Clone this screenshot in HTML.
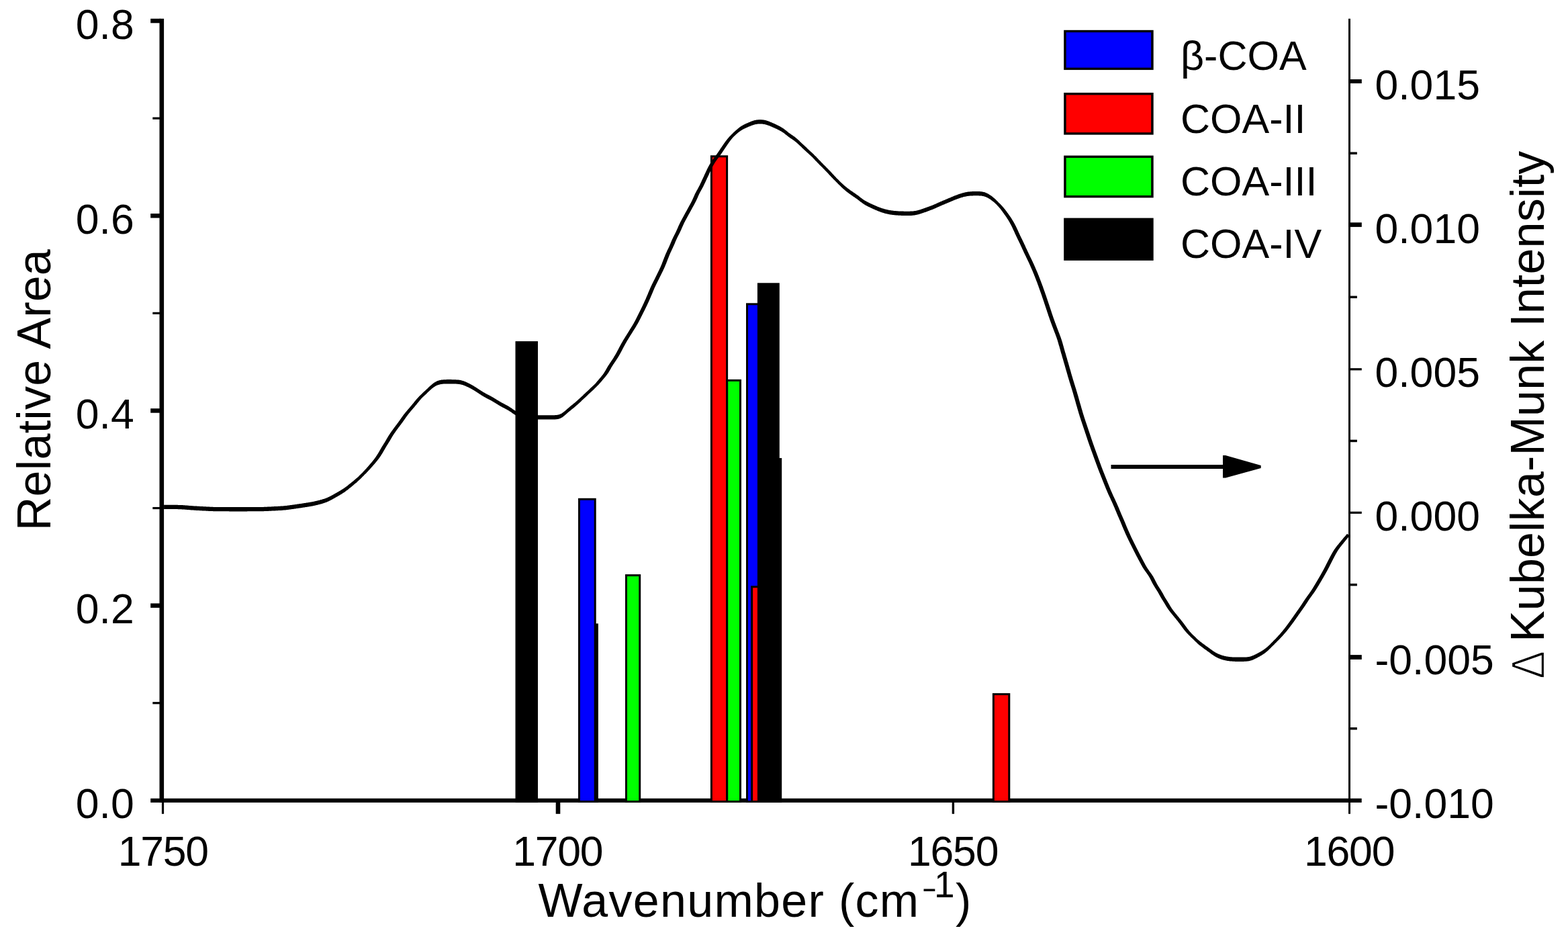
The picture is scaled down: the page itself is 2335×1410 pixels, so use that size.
<!DOCTYPE html>
<html><head><meta charset="utf-8"><title>Relative Area vs Wavenumber</title>
<style>
html,body{margin:0;padding:0;background:#fff;width:2335px;height:1410px;overflow:hidden}
svg{display:block}
</style></head>
<body>
<svg width="2335" height="1410" viewBox="0 0 2335 1410">
<rect width="2335" height="1410" fill="#fff"/>
<rect x="237.5" y="27.8" width="6.6" height="1167.1" fill="#000"/>
<rect x="224.2" y="1188.8" width="1803.5" height="6.1" fill="#000"/>
<rect x="2008" y="27.8" width="3" height="1167.1" fill="#000"/>
<rect x="224.2" y="27.80" width="15" height="6.5" fill="#000"/>
<rect x="224.2" y="318.00" width="15" height="6.5" fill="#000"/>
<rect x="224.2" y="608.20" width="15" height="6.5" fill="#000"/>
<rect x="224.2" y="898.40" width="15" height="6.5" fill="#000"/>
<rect x="227.3" y="174.55" width="11" height="3.2" fill="#000"/>
<rect x="227.3" y="464.75" width="11" height="3.2" fill="#000"/>
<rect x="227.3" y="754.95" width="11" height="3.2" fill="#000"/>
<rect x="227.3" y="1045.15" width="11" height="3.2" fill="#000"/>
<rect x="2010" y="118.10" width="17.8" height="6.0" fill="#000"/>
<rect x="2010" y="331.30" width="17.8" height="6.6" fill="#000"/>
<rect x="2010" y="548.20" width="17.8" height="3.2" fill="#000"/>
<rect x="2010" y="761.70" width="17.8" height="3.2" fill="#000"/>
<rect x="2010" y="975.10" width="17.8" height="6.8" fill="#000"/>
<rect x="2010" y="226.42" width="10.9" height="3.5" fill="#000"/>
<rect x="2010" y="440.58" width="10.9" height="3.5" fill="#000"/>
<rect x="2010" y="654.72" width="10.9" height="3.5" fill="#000"/>
<rect x="2010" y="868.88" width="10.9" height="3.5" fill="#000"/>
<rect x="2010" y="1083.03" width="10.9" height="3.5" fill="#000"/>
<rect x="240.9" y="1194" width="3.2" height="17.8" fill="#000"/>
<rect x="827.7" y="1194" width="6.6" height="17.8" fill="#000"/>
<rect x="1417.7" y="1194" width="3.4" height="17.8" fill="#000"/>
<rect x="2008" y="1194" width="3" height="17.8" fill="#000"/>
<rect x="767.5" y="508.1" width="33.5" height="686.9" fill="#000"/>
<rect x="864.0" y="928.4" width="26.9" height="266.6" fill="#000"/>
<rect x="861.0" y="741.8" width="26.7" height="453.2" fill="#000"/><rect x="864.0" y="744.8" width="20.7" height="447.2" fill="#0000ff"/>
<rect x="931.0" y="855.1" width="23.2" height="339.9" fill="#000"/><rect x="934.0" y="858.1" width="17.2" height="333.9" fill="#00ff00"/>
<rect x="1057.9" y="231.3" width="26.2" height="963.7" fill="#000"/><rect x="1060.9" y="234.3" width="20.2" height="957.7" fill="#ff0000"/>
<rect x="1081.2" y="564.9" width="22.8" height="630.1" fill="#000"/><rect x="1084.2" y="567.9" width="16.8" height="624.1" fill="#00ff00"/>
<rect x="1131.0" y="682.0" width="33.2" height="513.0" fill="#000"/>
<rect x="1111.0" y="451.3" width="26.7" height="743.7" fill="#000"/><rect x="1114.0" y="454.3" width="20.7" height="737.7" fill="#0000ff"/>
<rect x="1118.1" y="872.2" width="26.4" height="322.8" fill="#000"/><rect x="1121.1" y="875.2" width="20.4" height="316.8" fill="#ff0000"/>
<rect x="1127.9" y="421.3" width="32.9" height="773.7" fill="#000"/>
<rect x="1477.9" y="1032.1" width="26.4" height="162.9" fill="#000"/><rect x="1480.9" y="1035.1" width="20.4" height="156.9" fill="#ff0000"/>
<path d="M244.1,758.0 244.5,758.0 244.9,758.0 245.4,758.0 245.9,758.0 246.5,758.0 247.0,758.0 247.7,758.0 248.3,758.0 249.0,758.0 249.7,758.0 250.4,758.0 251.1,758.0 251.8,758.0 252.5,758.0 253.3,758.0 254.0,758.0 254.7,758.0 255.5,758.0 256.2,758.1 257.0,758.1 257.7,758.1 258.5,758.1 259.2,758.1 260.0,758.1 260.7,758.1 261.5,758.1 262.2,758.1 263.0,758.1 263.7,758.1 264.4,758.1 265.2,758.2 265.9,758.2 266.7,758.2 267.4,758.2 268.1,758.2 268.9,758.3 269.6,758.3 270.3,758.3 271.1,758.4 271.8,758.4 272.5,758.5 273.3,758.5 274.0,758.5 274.8,758.6 275.5,758.7 276.2,758.7 277.0,758.8 277.7,758.8 278.5,758.9 279.2,758.9 280.0,759.0 280.7,759.1 281.5,759.1 282.2,759.2 283.0,759.2 283.7,759.3 284.5,759.4 285.2,759.4 286.0,759.5 286.7,759.5 287.5,759.6 288.2,759.6 289.0,759.7 289.7,759.7 290.5,759.8 291.2,759.8 292.0,759.9 292.7,759.9 293.5,760.0 294.3,760.0 295.0,760.0 295.8,760.1 296.5,760.1 297.3,760.2 298.0,760.2 298.8,760.2 299.5,760.3 300.3,760.3 301.0,760.4 301.8,760.4 302.5,760.4 303.2,760.5 304.0,760.5 304.7,760.6 305.5,760.6 306.2,760.6 307.0,760.7 307.7,760.7 308.5,760.7 309.2,760.8 310.0,760.8 310.7,760.9 311.5,760.9 312.2,760.9 313.0,761.0 313.8,761.0 314.5,761.0 315.3,761.1 316.0,761.1 316.8,761.1 317.5,761.2 318.3,761.2 319.1,761.2 319.8,761.2 320.6,761.3 321.3,761.3 322.1,761.3 322.8,761.3 323.6,761.3 324.4,761.3 325.1,761.3 325.9,761.3 326.6,761.3 327.4,761.3 328.1,761.3 328.9,761.3 329.6,761.3 330.4,761.3 331.1,761.3 331.9,761.3 332.6,761.3 333.4,761.3 334.1,761.3 334.9,761.3 335.6,761.3 336.4,761.3 337.1,761.3 337.9,761.3 338.6,761.3 339.4,761.3 340.1,761.3 340.9,761.3 341.6,761.4 342.4,761.4 343.1,761.4 343.9,761.4 344.6,761.4 345.4,761.4 346.1,761.4 346.9,761.4 347.6,761.4 348.4,761.4 349.1,761.4 349.9,761.4 350.6,761.4 351.4,761.4 352.1,761.4 352.9,761.4 353.6,761.4 354.4,761.4 355.1,761.4 355.9,761.4 356.6,761.4 357.4,761.4 358.1,761.4 358.9,761.4 359.6,761.4 360.4,761.4 361.1,761.4 361.9,761.4 362.6,761.4 363.4,761.4 364.1,761.4 364.9,761.4 365.6,761.4 366.4,761.4 367.1,761.4 367.9,761.4 368.6,761.3 369.4,761.3 370.1,761.3 370.9,761.3 371.6,761.3 372.4,761.3 373.1,761.3 373.9,761.3 374.6,761.3 375.4,761.3 376.1,761.3 376.9,761.3 377.6,761.3 378.4,761.3 379.1,761.3 379.9,761.3 380.6,761.3 381.4,761.3 382.2,761.3 382.9,761.3 383.7,761.3 384.4,761.3 385.2,761.3 385.9,761.3 386.7,761.3 387.4,761.3 388.2,761.3 389.0,761.3 389.7,761.3 390.5,761.2 391.2,761.2 392.0,761.2 392.7,761.2 393.5,761.1 394.3,761.1 395.0,761.1 395.8,761.0 396.5,761.0 397.3,761.0 398.0,760.9 398.8,760.9 399.5,760.9 400.3,760.8 401.0,760.8 401.8,760.8 402.5,760.7 403.3,760.7 404.0,760.7 404.8,760.6 405.5,760.6 406.3,760.5 407.0,760.5 407.8,760.5 408.5,760.4 409.3,760.4 410.0,760.4 410.8,760.3 411.5,760.3 412.3,760.2 413.0,760.2 413.8,760.2 414.5,760.1 415.3,760.1 416.0,760.0 416.8,760.0 417.5,760.0 418.3,759.9 419.1,759.9 419.8,759.8 420.6,759.8 421.3,759.7 422.1,759.6 422.9,759.6 423.6,759.5 424.4,759.4 425.1,759.4 425.9,759.3 426.7,759.2 427.4,759.1 428.2,759.0 428.9,758.9 429.7,758.8 430.4,758.7 431.2,758.6 431.9,758.5 432.7,758.4 433.4,758.3 434.2,758.2 434.9,758.1 435.7,758.0 436.4,757.9 437.2,757.8 437.9,757.7 438.6,757.6 439.4,757.5 440.1,757.4 440.9,757.2 441.6,757.1 442.4,757.0 443.1,756.9 443.9,756.8 444.6,756.7 445.3,756.6 446.1,756.5 446.8,756.4 447.6,756.3 448.3,756.2 449.1,756.0 449.8,755.9 450.5,755.8 451.3,755.7 452.0,755.6 452.8,755.5 453.5,755.4 454.3,755.3 455.0,755.1 455.7,755.0 456.5,754.9 457.2,754.8 458.0,754.7 458.7,754.6 459.5,754.4 460.2,754.3 461.0,754.2 461.7,754.1 462.4,753.9 463.2,753.8 463.9,753.7 464.7,753.5 465.5,753.4 466.2,753.2 467.0,753.1 467.7,752.9 468.5,752.8 469.2,752.6 470.0,752.4 470.7,752.3 471.4,752.1 472.2,751.9 472.9,751.7 473.7,751.5 474.4,751.3 475.1,751.2 475.9,751.0 476.6,750.8 477.3,750.6 478.1,750.4 478.8,750.2 479.5,749.9 480.3,749.7 481.0,749.5 481.7,749.3 482.5,749.0 483.2,748.8 484.0,748.5 484.7,748.3 485.4,748.0 486.1,747.7 486.9,747.4 487.6,747.1 488.3,746.8 489.0,746.5 489.7,746.2 490.4,745.8 491.1,745.5 491.8,745.1 492.5,744.8 493.2,744.4 493.9,744.0 494.5,743.7 495.2,743.3 495.9,742.9 496.5,742.6 497.2,742.2 497.9,741.8 498.5,741.5 499.2,741.1 499.8,740.7 500.5,740.3 501.1,740.0 501.8,739.6 502.5,739.2 503.1,738.8 503.8,738.5 504.4,738.1 505.1,737.7 505.7,737.3 506.4,736.9 507.0,736.5 507.7,736.1 508.3,735.7 509.0,735.4 509.6,734.9 510.2,734.5 510.9,734.1 511.5,733.7 512.2,733.3 512.8,732.9 513.4,732.4 514.1,732.0 514.7,731.5 515.3,731.1 515.9,730.6 516.5,730.1 517.2,729.7 517.8,729.2 518.4,728.7 519.0,728.2 519.5,727.8 520.1,727.3 520.7,726.8 521.3,726.3 521.9,725.9 522.5,725.4 523.1,724.9 523.7,724.4 524.2,724.0 524.8,723.5 525.4,723.0 526.0,722.5 526.6,722.1 527.1,721.6 527.7,721.1 528.3,720.6 528.9,720.1 529.5,719.6 530.0,719.2 530.6,718.7 531.2,718.2 531.8,717.7 532.3,717.1 532.9,716.6 533.5,716.1 534.0,715.6 534.6,715.1 535.1,714.6 535.7,714.0 536.2,713.5 536.8,713.0 537.3,712.4 537.8,711.9 538.4,711.4 538.9,710.8 539.4,710.3 540.0,709.8 540.5,709.2 541.0,708.7 541.6,708.2 542.1,707.6 542.6,707.1 543.2,706.6 543.7,706.0 544.2,705.5 544.8,704.9 545.3,704.4 545.8,703.9 546.3,703.3 546.9,702.8 547.4,702.2 547.9,701.7 548.4,701.1 549.0,700.6 549.5,700.0 550.0,699.5 550.5,698.9 551.0,698.3 551.5,697.8 552.0,697.2 552.5,696.7 553.0,696.1 553.5,695.5 554.0,695.0 554.5,694.4 555.0,693.8 555.5,693.3 556.0,692.7 556.5,692.1 557.0,691.5 557.5,691.0 558.0,690.4 558.5,689.8 559.0,689.2 559.5,688.7 559.9,688.1 560.4,687.5 560.9,686.9 561.4,686.3 561.9,685.7 562.4,685.1 562.8,684.5 563.3,683.9 563.8,683.3 564.2,682.7 564.7,682.0 565.1,681.4 565.6,680.8 566.0,680.2 566.4,679.5 566.9,678.9 567.3,678.2 567.7,677.6 568.1,677.0 568.5,676.3 568.9,675.7 569.3,675.0 569.7,674.4 570.1,673.7 570.5,673.1 570.9,672.4 571.2,671.8 571.6,671.1 572.0,670.5 572.4,669.8 572.7,669.2 573.1,668.5 573.5,667.9 573.8,667.3 574.2,666.6 574.6,666.0 575.0,665.4 575.3,664.7 575.7,664.1 576.1,663.5 576.5,662.8 576.9,662.2 577.3,661.5 577.7,660.9 578.1,660.3 578.5,659.6 578.9,659.0 579.3,658.3 579.7,657.7 580.1,657.0 580.5,656.4 580.9,655.7 581.3,655.1 581.6,654.4 582.0,653.8 582.4,653.2 582.7,652.5 583.1,651.9 583.5,651.3 583.9,650.6 584.2,650.0 584.6,649.4 585.0,648.8 585.4,648.1 585.8,647.5 586.2,646.9 586.6,646.3 587.0,645.7 587.4,645.1 587.8,644.5 588.3,643.9 588.7,643.3 589.1,642.6 589.5,642.0 590.0,641.4 590.4,640.8 590.8,640.2 591.3,639.6 591.7,639.0 592.2,638.4 592.6,637.8 593.0,637.2 593.5,636.6 593.9,636.0 594.4,635.4 594.9,634.8 595.3,634.2 595.8,633.6 596.2,633.0 596.7,632.4 597.1,631.8 597.6,631.2 598.0,630.6 598.5,630.0 598.9,629.4 599.4,628.8 599.8,628.2 600.3,627.6 600.7,626.9 601.1,626.3 601.6,625.7 602.0,625.1 602.4,624.5 602.9,623.9 603.3,623.3 603.7,622.7 604.1,622.1 604.5,621.4 605.0,620.8 605.4,620.3 605.8,619.7 606.3,619.1 606.7,618.5 607.1,617.9 607.6,617.3 608.0,616.7 608.5,616.2 608.9,615.6 609.4,615.0 609.9,614.4 610.4,613.9 610.8,613.3 611.3,612.7 611.8,612.1 612.3,611.6 612.7,611.0 613.2,610.4 613.7,609.9 614.2,609.3 614.7,608.7 615.2,608.2 615.7,607.6 616.2,607.0 616.7,606.4 617.2,605.9 617.6,605.3 618.1,604.7 618.6,604.1 619.1,603.6 619.6,603.0 620.1,602.4 620.6,601.8 621.0,601.2 621.5,600.6 622.0,600.1 622.4,599.5 622.9,598.9 623.4,598.3 623.8,597.8 624.3,597.2 624.8,596.6 625.2,596.0 625.7,595.5 626.2,594.9 626.6,594.4 627.1,593.8 627.6,593.3 628.1,592.8 628.6,592.2 629.1,591.7 629.6,591.2 630.1,590.7 630.7,590.2 631.2,589.7 631.8,589.2 632.3,588.7 632.9,588.2 633.4,587.7 634.0,587.2 634.5,586.7 635.1,586.2 635.6,585.7 636.2,585.1 636.7,584.6 637.2,584.1 637.8,583.6 638.3,583.1 638.9,582.5 639.4,582.0 640.0,581.5 640.5,581.0 641.1,580.5 641.6,580.0 642.2,579.6 642.7,579.1 643.3,578.6 643.8,578.1 644.4,577.7 645.0,577.3 645.5,576.8 646.1,576.4 646.7,576.0 647.3,575.7 647.8,575.3 648.4,574.9 649.0,574.6 649.6,574.3 650.2,574.0 650.8,573.7 651.4,573.5 652.0,573.3 652.6,573.0 653.2,572.9 653.8,572.7 654.4,572.5 655.1,572.4 655.7,572.2 656.3,572.1 657.0,572.0 657.6,571.9 658.3,571.8 658.9,571.7 659.6,571.7 660.3,571.6 661.0,571.6 661.7,571.5 662.4,571.5 663.1,571.5 663.9,571.5 664.6,571.5 665.3,571.4 666.1,571.4 666.8,571.4 667.5,571.4 668.3,571.4 669.0,571.4 669.8,571.4 670.5,571.4 671.3,571.4 672.0,571.4 672.7,571.5 673.5,571.5 674.2,571.5 675.0,571.5 675.7,571.5 676.4,571.5 677.2,571.6 677.9,571.6 678.6,571.6 679.4,571.6 680.1,571.7 680.8,571.7 681.5,571.8 682.2,571.8 682.8,571.9 683.5,572.0 684.2,572.1 684.8,572.2 685.5,572.3 686.1,572.4 686.8,572.6 687.4,572.7 688.1,572.9 688.7,573.1 689.4,573.3 690.0,573.5 690.7,573.7 691.3,574.0 692.0,574.2 692.6,574.5 693.3,574.8 694.0,575.1 694.6,575.4 695.3,575.7 695.9,576.0 696.6,576.3 697.3,576.6 697.9,577.0 698.6,577.3 699.2,577.6 699.9,577.9 700.5,578.3 701.2,578.6 701.8,579.0 702.4,579.3 703.1,579.7 703.7,580.0 704.4,580.4 705.0,580.8 705.6,581.1 706.2,581.5 706.9,581.9 707.5,582.3 708.1,582.7 708.7,583.1 709.4,583.5 710.0,583.9 710.6,584.3 711.2,584.7 711.9,585.1 712.5,585.5 713.1,586.0 713.8,586.4 714.4,586.8 715.0,587.2 715.7,587.6 716.3,588.0 717.0,588.4 717.6,588.9 718.3,589.3 718.9,589.7 719.6,590.1 720.2,590.5 720.9,590.8 721.6,591.2 722.2,591.6 722.9,592.0 723.6,592.3 724.2,592.7 724.9,593.0 725.6,593.4 726.2,593.7 726.9,594.1 727.6,594.4 728.2,594.8 728.9,595.1 729.5,595.4 730.2,595.8 730.8,596.1 731.5,596.5 732.1,596.8 732.7,597.2 733.4,597.5 734.0,597.9 734.6,598.3 735.3,598.7 735.9,599.0 736.5,599.4 737.2,599.8 737.8,600.2 738.4,600.6 739.1,601.0 739.7,601.4 740.4,601.8 741.0,602.2 741.7,602.6 742.3,603.0 743.0,603.4 743.6,603.8 744.3,604.2 744.9,604.6 745.6,604.9 746.3,605.3 746.9,605.7 747.6,606.0 748.3,606.4 748.9,606.8 749.6,607.1 750.3,607.4 750.9,607.8 751.6,608.1 752.2,608.5 752.9,608.8 753.5,609.2 754.2,609.5 754.8,609.8 755.4,610.2 756.1,610.6 756.7,610.9 757.3,611.3 757.9,611.6 758.5,612.0 759.1,612.4 759.7,612.8 760.4,613.2 761.0,613.6 761.6,614.1 762.2,614.5 762.8,614.9 763.4,615.4 764.1,615.8 764.7,616.2 765.4,616.7 766.0,617.1 766.7,617.5 767.4,617.9 768.1,618.3 768.8,618.6 769.5,619.0 770.2,619.3 771.0,619.7 771.7,620.0 772.4,620.3 773.2,620.5 773.9,620.8 774.7,621.0 775.4,621.3 776.2,621.5 776.9,621.7 777.7,621.9 778.5,622.1 779.2,622.3 780.0,622.4 780.7,622.6 781.5,622.7 782.3,622.9 783.0,623.0 783.8,623.2 784.5,623.3 785.3,623.4 786.1,623.5 786.8,623.6 787.6,623.7 788.4,623.8 789.1,623.9 789.9,624.0 790.7,624.1 791.5,624.1 792.2,624.2 793.0,624.3 793.8,624.3 794.5,624.3 795.3,624.4 796.1,624.4 796.8,624.4 797.6,624.4 798.4,624.5 799.1,624.5 799.9,624.5 800.6,624.5 801.4,624.5 802.2,624.5 802.9,624.5 803.7,624.5 804.4,624.5 805.2,624.5 805.9,624.5 806.7,624.5 807.4,624.5 808.2,624.5 808.9,624.5 809.7,624.5 810.4,624.5 811.2,624.5 811.9,624.5 812.7,624.5 813.4,624.5 814.2,624.5 814.9,624.5 815.7,624.5 816.4,624.5 817.2,624.5 817.9,624.5 818.7,624.5 819.4,624.5 820.2,624.5 820.9,624.5 821.7,624.5 822.5,624.5 823.2,624.5 824.0,624.5 824.7,624.5 825.5,624.5 826.3,624.4 827.1,624.4 827.9,624.3 828.6,624.3 829.4,624.2 830.2,624.0 831.0,623.9 831.8,623.7 832.6,623.5 833.4,623.2 834.2,622.9 835.0,622.6 835.7,622.2 836.4,621.8 837.1,621.4 837.8,620.9 838.4,620.5 839.1,620.0 839.7,619.5 840.3,619.0 840.9,618.5 841.5,618.0 842.1,617.5 842.6,617.0 843.2,616.5 843.8,616.0 844.3,615.5 844.9,615.0 845.5,614.5 846.0,614.1 846.6,613.6 847.2,613.1 847.8,612.6 848.3,612.1 848.9,611.7 849.5,611.2 850.0,610.7 850.6,610.3 851.2,609.8 851.8,609.3 852.4,608.8 852.9,608.4 853.5,607.9 854.1,607.4 854.7,606.9 855.3,606.5 855.8,606.0 856.4,605.5 857.0,605.0 857.6,604.5 858.1,604.0 858.7,603.5 859.3,603.0 859.9,602.5 860.4,602.0 861.0,601.5 861.5,601.0 862.1,600.4 862.7,599.9 863.2,599.4 863.8,598.9 864.3,598.4 864.9,597.9 865.4,597.4 866.0,596.8 866.5,596.3 867.1,595.8 867.6,595.3 868.2,594.8 868.7,594.3 869.3,593.8 869.8,593.3 870.4,592.7 870.9,592.2 871.5,591.7 872.0,591.2 872.5,590.7 873.1,590.2 873.6,589.7 874.2,589.2 874.7,588.7 875.3,588.1 875.8,587.6 876.4,587.1 876.9,586.6 877.5,586.1 878.0,585.6 878.6,585.1 879.1,584.6 879.7,584.0 880.2,583.5 880.8,583.0 881.3,582.5 881.9,582.0 882.4,581.5 883.0,581.0 883.5,580.4 884.0,579.9 884.6,579.4 885.1,578.9 885.7,578.3 886.2,577.8 886.8,577.3 887.3,576.7 887.8,576.2 888.4,575.7 888.9,575.1 889.5,574.6 890.0,574.0 890.5,573.5 891.1,573.0 891.6,572.4 892.1,571.8 892.6,571.3 893.2,570.7 893.7,570.1 894.2,569.6 894.7,569.0 895.1,568.4 895.6,567.9 896.1,567.3 896.6,566.7 897.1,566.1 897.6,565.6 898.0,565.0 898.5,564.4 899.0,563.8 899.5,563.3 900.0,562.7 900.5,562.1 901.0,561.5 901.5,560.9 902.0,560.3 902.4,559.7 902.9,559.1 903.4,558.5 903.9,557.9 904.3,557.3 904.8,556.6 905.2,556.0 905.7,555.4 906.1,554.7 906.5,554.1 906.9,553.4 907.3,552.7 907.7,552.1 908.1,551.4 908.4,550.8 908.8,550.2 909.2,549.5 909.5,548.9 909.9,548.2 910.2,547.6 910.6,547.0 911.0,546.3 911.4,545.7 911.7,545.1 912.1,544.5 912.5,543.9 912.9,543.2 913.3,542.6 913.7,542.0 914.2,541.4 914.6,540.8 915.0,540.1 915.4,539.5 915.8,538.9 916.3,538.2 916.7,537.6 917.1,537.0 917.5,536.4 917.9,535.7 918.3,535.1 918.8,534.4 919.2,533.8 919.6,533.2 920.0,532.5 920.4,531.9 920.8,531.2 921.2,530.6 921.6,529.9 922.0,529.3 922.4,528.6 922.7,527.9 923.1,527.3 923.5,526.6 923.9,525.9 924.2,525.3 924.6,524.6 925.0,523.9 925.3,523.3 925.7,522.6 926.0,521.9 926.4,521.3 926.7,520.6 927.0,519.9 927.4,519.3 927.7,518.6 928.1,518.0 928.4,517.3 928.8,516.6 929.1,516.0 929.5,515.3 929.8,514.7 930.2,514.0 930.5,513.4 930.9,512.8 931.2,512.1 931.6,511.5 932.0,510.8 932.3,510.2 932.7,509.5 933.1,508.9 933.4,508.3 933.8,507.6 934.2,507.0 934.6,506.3 935.0,505.7 935.4,505.1 935.8,504.4 936.1,503.8 936.5,503.2 936.9,502.5 937.3,501.9 937.7,501.2 938.1,500.6 938.5,500.0 938.9,499.3 939.3,498.7 939.7,498.1 940.1,497.4 940.5,496.8 940.9,496.2 941.3,495.5 941.7,494.9 942.1,494.3 942.5,493.6 942.9,493.0 943.3,492.3 943.7,491.7 944.1,491.1 944.5,490.4 944.9,489.8 945.3,489.2 945.7,488.5 946.1,487.9 946.5,487.2 946.9,486.6 947.3,485.9 947.7,485.3 948.0,484.6 948.4,484.0 948.8,483.3 949.2,482.7 949.6,482.0 950.0,481.3 950.3,480.7 950.7,480.0 951.1,479.3 951.4,478.7 951.8,478.0 952.1,477.3 952.5,476.6 952.8,476.0 953.2,475.3 953.5,474.6 953.9,473.9 954.2,473.3 954.5,472.6 954.9,471.9 955.2,471.3 955.5,470.6 955.9,469.9 956.2,469.2 956.5,468.6 956.9,467.9 957.2,467.2 957.5,466.6 957.9,465.9 958.2,465.2 958.5,464.5 958.9,463.9 959.2,463.2 959.6,462.5 959.9,461.9 960.2,461.2 960.6,460.5 960.9,459.8 961.2,459.2 961.6,458.5 961.9,457.8 962.2,457.1 962.6,456.4 962.9,455.8 963.2,455.1 963.5,454.4 963.9,453.7 964.2,453.0 964.5,452.3 964.8,451.7 965.1,451.0 965.5,450.3 965.8,449.6 966.1,448.9 966.4,448.2 966.7,447.5 967.0,446.8 967.3,446.2 967.6,445.5 967.9,444.8 968.2,444.1 968.5,443.4 968.8,442.7 969.1,442.0 969.4,441.3 969.7,440.6 970.0,439.9 970.3,439.2 970.6,438.5 970.9,437.8 971.2,437.1 971.5,436.4 971.8,435.7 972.0,435.1 972.3,434.4 972.6,433.7 972.9,433.0 973.2,432.3 973.5,431.6 973.8,431.0 974.1,430.3 974.3,429.6 974.6,428.9 974.9,428.3 975.2,427.6 975.6,426.9 975.9,426.3 976.2,425.6 976.5,424.9 976.8,424.2 977.1,423.6 977.5,422.9 977.8,422.2 978.1,421.6 978.5,420.9 978.8,420.2 979.1,419.6 979.5,418.9 979.8,418.2 980.1,417.5 980.5,416.9 980.8,416.2 981.1,415.5 981.5,414.9 981.8,414.2 982.1,413.5 982.5,412.8 982.8,412.2 983.1,411.5 983.5,410.8 983.8,410.2 984.2,409.5 984.5,408.8 984.8,408.1 985.2,407.5 985.5,406.8 985.8,406.1 986.2,405.4 986.5,404.8 986.8,404.1 987.2,403.4 987.5,402.7 987.8,402.0 988.1,401.3 988.5,400.6 988.8,400.0 989.1,399.3 989.4,398.6 989.7,397.9 990.0,397.2 990.3,396.5 990.6,395.8 990.9,395.1 991.2,394.3 991.5,393.6 991.8,392.9 992.1,392.2 992.4,391.5 992.6,390.8 992.9,390.1 993.2,389.4 993.4,388.7 993.7,388.0 994.0,387.3 994.2,386.6 994.5,385.9 994.8,385.2 995.0,384.5 995.3,383.9 995.6,383.2 995.9,382.5 996.1,381.8 996.4,381.1 996.7,380.4 997.0,379.8 997.2,379.1 997.5,378.4 997.8,377.7 998.1,377.1 998.4,376.4 998.7,375.7 999.0,375.0 999.3,374.4 999.7,373.7 1000.0,373.0 1000.3,372.3 1000.6,371.7 1000.9,371.0 1001.3,370.3 1001.6,369.6 1001.9,368.9 1002.2,368.2 1002.5,367.5 1002.9,366.8 1003.2,366.1 1003.5,365.4 1003.8,364.8 1004.1,364.1 1004.4,363.4 1004.7,362.7 1005.0,362.0 1005.3,361.3 1005.5,360.6 1005.8,359.9 1006.1,359.3 1006.4,358.6 1006.7,357.9 1007.0,357.2 1007.3,356.6 1007.6,355.9 1007.9,355.2 1008.2,354.6 1008.5,353.9 1008.8,353.3 1009.2,352.6 1009.5,351.9 1009.8,351.3 1010.2,350.6 1010.5,349.9 1010.9,349.3 1011.2,348.6 1011.6,347.9 1011.9,347.2 1012.2,346.5 1012.6,345.9 1012.9,345.2 1013.2,344.5 1013.6,343.8 1013.9,343.1 1014.2,342.4 1014.5,341.7 1014.8,341.0 1015.1,340.3 1015.4,339.6 1015.7,339.0 1016.0,338.3 1016.3,337.6 1016.6,336.9 1016.9,336.3 1017.2,335.6 1017.5,334.9 1017.8,334.3 1018.1,333.6 1018.4,332.9 1018.7,332.3 1019.0,331.6 1019.4,331.0 1019.7,330.3 1020.0,329.7 1020.4,329.0 1020.7,328.3 1021.1,327.7 1021.4,327.0 1021.8,326.4 1022.1,325.7 1022.5,325.1 1022.9,324.4 1023.2,323.7 1023.6,323.1 1023.9,322.4 1024.3,321.8 1024.7,321.1 1025.0,320.5 1025.4,319.8 1025.7,319.1 1026.1,318.5 1026.5,317.8 1026.8,317.2 1027.2,316.5 1027.5,315.9 1027.9,315.2 1028.3,314.5 1028.6,313.9 1029.0,313.2 1029.3,312.6 1029.7,311.9 1030.1,311.3 1030.4,310.6 1030.8,309.9 1031.1,309.3 1031.5,308.6 1031.9,308.0 1032.2,307.3 1032.6,306.7 1033.0,306.0 1033.3,305.3 1033.7,304.7 1034.1,304.0 1034.4,303.3 1034.8,302.6 1035.1,302.0 1035.5,301.3 1035.8,300.6 1036.2,299.9 1036.5,299.2 1036.9,298.5 1037.2,297.8 1037.5,297.2 1037.8,296.5 1038.1,295.8 1038.5,295.1 1038.8,294.4 1039.0,293.7 1039.3,293.0 1039.6,292.4 1039.9,291.7 1040.2,291.0 1040.5,290.4 1040.8,289.7 1041.1,289.1 1041.4,288.4 1041.8,287.8 1042.1,287.1 1042.4,286.5 1042.8,285.8 1043.1,285.2 1043.5,284.5 1043.8,283.9 1044.2,283.2 1044.6,282.6 1044.9,281.9 1045.3,281.2 1045.7,280.6 1046.0,279.9 1046.4,279.2 1046.8,278.6 1047.1,277.9 1047.5,277.2 1047.8,276.5 1048.1,275.8 1048.5,275.1 1048.8,274.5 1049.1,273.8 1049.4,273.1 1049.8,272.4 1050.1,271.7 1050.4,271.0 1050.7,270.4 1051.0,269.7 1051.3,269.0 1051.7,268.3 1052.0,267.7 1052.3,267.0 1052.6,266.3 1052.9,265.6 1053.2,264.9 1053.6,264.3 1053.9,263.6 1054.2,262.9 1054.5,262.2 1054.8,261.5 1055.2,260.8 1055.5,260.2 1055.8,259.5 1056.1,258.8 1056.4,258.1 1056.7,257.4 1057.0,256.8 1057.3,256.1 1057.6,255.4 1058.0,254.8 1058.3,254.1 1058.6,253.4 1058.9,252.8 1059.2,252.1 1059.6,251.4 1059.9,250.8 1060.2,250.1 1060.5,249.5 1060.9,248.8 1061.2,248.2 1061.5,247.5 1061.9,246.9 1062.2,246.3 1062.6,245.6 1062.9,245.0 1063.3,244.4 1063.7,243.7 1064.1,243.1 1064.4,242.5 1064.8,241.9 1065.2,241.3 1065.6,240.7 1066.0,240.1 1066.4,239.5 1066.8,238.9 1067.3,238.3 1067.7,237.7 1068.1,237.1 1068.6,236.5 1069.0,235.9 1069.5,235.3 1069.9,234.7 1070.4,234.1 1070.8,233.5 1071.3,232.9 1071.7,232.3 1072.2,231.6 1072.6,231.0 1073.1,230.4 1073.5,229.8 1074.0,229.2 1074.4,228.5 1074.8,227.9 1075.3,227.3 1075.7,226.7 1076.1,226.1 1076.5,225.4 1076.9,224.8 1077.4,224.2 1077.8,223.6 1078.2,222.9 1078.6,222.3 1079.0,221.7 1079.4,221.1 1079.9,220.5 1080.3,219.8 1080.7,219.2 1081.1,218.6 1081.5,218.0 1081.9,217.4 1082.4,216.8 1082.8,216.1 1083.2,215.5 1083.6,214.9 1084.0,214.3 1084.5,213.7 1084.9,213.1 1085.3,212.5 1085.7,211.9 1086.2,211.3 1086.6,210.7 1087.0,210.1 1087.5,209.6 1087.9,209.0 1088.4,208.4 1088.8,207.8 1089.3,207.3 1089.7,206.7 1090.2,206.2 1090.7,205.6 1091.1,205.1 1091.6,204.5 1092.1,204.0 1092.6,203.4 1093.1,202.9 1093.6,202.4 1094.2,201.9 1094.7,201.4 1095.2,200.9 1095.8,200.5 1096.3,200.0 1096.9,199.5 1097.4,199.0 1098.0,198.5 1098.6,198.1 1099.1,197.6 1099.7,197.1 1100.3,196.7 1100.8,196.3 1101.4,195.8 1102.0,195.4 1102.6,195.0 1103.2,194.6 1103.7,194.2 1104.3,193.9 1104.9,193.5 1105.5,193.1 1106.2,192.8 1106.8,192.5 1107.4,192.1 1108.0,191.8 1108.7,191.5 1109.3,191.2 1109.9,190.9 1110.6,190.6 1111.3,190.3 1111.9,190.0 1112.6,189.7 1113.2,189.4 1113.9,189.1 1114.6,188.8 1115.3,188.5 1116.0,188.2 1116.6,188.0 1117.3,187.7 1118.0,187.4 1118.7,187.1 1119.3,186.9 1120.0,186.6 1120.7,186.4 1121.4,186.2 1122.0,186.0 1122.7,185.8 1123.3,185.6 1124.0,185.4 1124.6,185.2 1125.3,185.1 1126.0,185.0 1126.6,184.9 1127.3,184.8 1127.9,184.7 1128.6,184.6 1129.3,184.5 1129.9,184.5 1130.6,184.5 1131.3,184.4 1131.9,184.4 1132.6,184.4 1133.3,184.5 1133.9,184.5 1134.6,184.5 1135.3,184.6 1135.9,184.7 1136.6,184.8 1137.3,184.9 1137.9,185.0 1138.6,185.1 1139.2,185.2 1139.9,185.4 1140.5,185.6 1141.2,185.8 1141.9,185.9 1142.5,186.2 1143.2,186.4 1143.9,186.6 1144.5,186.9 1145.2,187.1 1145.9,187.4 1146.6,187.6 1147.3,187.9 1147.9,188.2 1148.6,188.5 1149.3,188.8 1150.0,189.1 1150.6,189.4 1151.3,189.7 1152.0,190.0 1152.7,190.3 1153.3,190.6 1154.0,190.9 1154.7,191.2 1155.3,191.5 1156.0,191.8 1156.7,192.1 1157.3,192.4 1158.0,192.8 1158.6,193.1 1159.3,193.4 1159.9,193.7 1160.6,194.1 1161.2,194.4 1161.8,194.8 1162.4,195.1 1163.1,195.4 1163.7,195.8 1164.3,196.2 1164.9,196.5 1165.5,196.9 1166.0,197.3 1166.6,197.7 1167.2,198.1 1167.8,198.5 1168.4,199.0 1168.9,199.4 1169.5,199.9 1170.1,200.4 1170.7,200.8 1171.3,201.3 1171.9,201.8 1172.5,202.3 1173.1,202.8 1173.7,203.2 1174.3,203.7 1174.9,204.2 1175.5,204.6 1176.1,205.0 1176.7,205.5 1177.4,205.9 1178.0,206.3 1178.6,206.7 1179.2,207.1 1179.8,207.5 1180.4,207.9 1181.0,208.3 1181.6,208.7 1182.2,209.2 1182.8,209.6 1183.3,210.0 1183.9,210.4 1184.5,210.9 1185.0,211.3 1185.6,211.8 1186.1,212.3 1186.7,212.7 1187.2,213.2 1187.8,213.7 1188.3,214.2 1188.9,214.7 1189.4,215.2 1190.0,215.8 1190.5,216.3 1191.0,216.8 1191.6,217.3 1192.1,217.8 1192.7,218.3 1193.2,218.8 1193.8,219.3 1194.3,219.9 1194.9,220.4 1195.4,220.9 1196.0,221.4 1196.5,221.9 1197.1,222.4 1197.6,222.9 1198.1,223.4 1198.7,224.0 1199.2,224.5 1199.8,225.0 1200.3,225.5 1200.9,226.0 1201.4,226.6 1202.0,227.1 1202.5,227.6 1203.1,228.1 1203.6,228.6 1204.2,229.1 1204.7,229.6 1205.3,230.1 1205.8,230.6 1206.4,231.1 1206.9,231.6 1207.5,232.1 1208.0,232.6 1208.5,233.1 1209.1,233.6 1209.6,234.1 1210.1,234.6 1210.7,235.1 1211.2,235.7 1211.7,236.2 1212.2,236.8 1212.7,237.3 1213.2,237.8 1213.7,238.4 1214.2,238.9 1214.7,239.5 1215.3,240.0 1215.8,240.6 1216.3,241.1 1216.8,241.6 1217.4,242.2 1217.9,242.7 1218.4,243.3 1219.0,243.8 1219.5,244.3 1220.0,244.9 1220.5,245.4 1221.1,245.9 1221.6,246.5 1222.1,247.0 1222.7,247.5 1223.2,248.1 1223.7,248.6 1224.3,249.1 1224.8,249.6 1225.3,250.2 1225.8,250.7 1226.4,251.2 1226.9,251.8 1227.4,252.3 1227.9,252.8 1228.5,253.4 1229.0,253.9 1229.5,254.4 1230.0,255.0 1230.5,255.5 1231.0,256.1 1231.5,256.6 1232.1,257.1 1232.6,257.7 1233.1,258.2 1233.6,258.8 1234.1,259.3 1234.6,259.9 1235.1,260.4 1235.6,261.0 1236.1,261.5 1236.6,262.1 1237.2,262.6 1237.7,263.2 1238.2,263.7 1238.7,264.3 1239.2,264.8 1239.8,265.3 1240.3,265.9 1240.8,266.4 1241.3,267.0 1241.9,267.5 1242.4,268.0 1242.9,268.6 1243.5,269.1 1244.0,269.6 1244.5,270.2 1245.1,270.7 1245.6,271.2 1246.1,271.8 1246.7,272.3 1247.2,272.8 1247.7,273.4 1248.3,273.9 1248.8,274.4 1249.3,275.0 1249.9,275.5 1250.4,276.0 1250.9,276.6 1251.5,277.1 1252.0,277.6 1252.6,278.2 1253.1,278.7 1253.7,279.2 1254.2,279.8 1254.8,280.3 1255.3,280.8 1255.9,281.3 1256.5,281.8 1257.1,282.3 1257.7,282.8 1258.2,283.3 1258.8,283.8 1259.4,284.3 1260.0,284.8 1260.6,285.2 1261.2,285.7 1261.8,286.2 1262.4,286.6 1263.0,287.1 1263.6,287.5 1264.3,288.0 1264.9,288.5 1265.5,288.9 1266.1,289.3 1266.7,289.8 1267.3,290.2 1268.0,290.7 1268.6,291.1 1269.2,291.5 1269.8,291.9 1270.4,292.4 1271.0,292.8 1271.7,293.2 1272.3,293.6 1272.9,294.0 1273.5,294.4 1274.1,294.9 1274.7,295.3 1275.3,295.7 1275.9,296.1 1276.5,296.6 1277.1,297.0 1277.7,297.4 1278.3,297.9 1278.8,298.3 1279.4,298.8 1280.0,299.3 1280.6,299.7 1281.2,300.2 1281.8,300.7 1282.4,301.1 1283.1,301.6 1283.7,302.1 1284.3,302.5 1285.0,303.0 1285.6,303.4 1286.2,303.8 1286.9,304.3 1287.6,304.7 1288.2,305.1 1288.9,305.5 1289.6,305.9 1290.3,306.2 1290.9,306.6 1291.6,307.0 1292.3,307.3 1293.0,307.7 1293.7,308.0 1294.4,308.3 1295.1,308.6 1295.7,309.0 1296.4,309.3 1297.1,309.6 1297.8,309.9 1298.5,310.2 1299.2,310.5 1299.9,310.9 1300.5,311.2 1301.2,311.5 1301.9,311.8 1302.6,312.1 1303.3,312.4 1304.0,312.7 1304.7,313.0 1305.4,313.3 1306.1,313.6 1306.8,313.9 1307.5,314.2 1308.2,314.5 1309.0,314.8 1309.7,315.1 1310.4,315.3 1311.1,315.6 1311.9,315.9 1312.6,316.1 1313.3,316.4 1314.1,316.6 1314.8,316.8 1315.5,317.1 1316.3,317.3 1317.0,317.5 1317.8,317.7 1318.5,317.9 1319.3,318.1 1320.0,318.3 1320.8,318.4 1321.5,318.6 1322.3,318.8 1323.1,318.9 1323.8,319.1 1324.6,319.2 1325.3,319.4 1326.1,319.5 1326.9,319.6 1327.6,319.7 1328.4,319.8 1329.2,319.9 1329.9,320.0 1330.7,320.1 1331.5,320.2 1332.3,320.3 1333.0,320.3 1333.8,320.4 1334.6,320.5 1335.3,320.5 1336.1,320.6 1336.8,320.6 1337.6,320.7 1338.4,320.7 1339.1,320.7 1339.9,320.8 1340.6,320.8 1341.4,320.8 1342.2,320.9 1342.9,320.9 1343.7,320.9 1344.4,320.9 1345.2,320.9 1345.9,321.0 1346.7,321.0 1347.5,321.0 1348.2,321.0 1349.0,321.0 1349.7,321.0 1350.5,321.0 1351.3,321.0 1352.0,321.0 1352.8,321.0 1353.5,321.0 1354.3,321.0 1355.1,321.0 1355.9,320.9 1356.6,320.9 1357.4,320.9 1358.2,320.8 1359.0,320.8 1359.8,320.7 1360.5,320.6 1361.3,320.5 1362.1,320.4 1362.9,320.3 1363.7,320.1 1364.5,320.0 1365.2,319.8 1366.0,319.6 1366.8,319.5 1367.6,319.3 1368.3,319.0 1369.1,318.8 1369.8,318.6 1370.5,318.4 1371.3,318.1 1372.0,317.9 1372.7,317.6 1373.4,317.4 1374.2,317.1 1374.9,316.9 1375.6,316.6 1376.3,316.4 1377.0,316.1 1377.7,315.9 1378.4,315.7 1379.1,315.4 1379.9,315.2 1380.6,314.9 1381.3,314.6 1382.0,314.4 1382.7,314.1 1383.4,313.9 1384.1,313.6 1384.8,313.3 1385.5,313.1 1386.3,312.8 1387.0,312.5 1387.7,312.2 1388.4,312.0 1389.1,311.7 1389.8,311.4 1390.5,311.1 1391.2,310.8 1391.9,310.5 1392.6,310.2 1393.3,309.9 1394.0,309.5 1394.7,309.2 1395.4,308.9 1396.1,308.6 1396.7,308.3 1397.4,308.0 1398.1,307.7 1398.8,307.4 1399.5,307.1 1400.2,306.8 1400.8,306.5 1401.5,306.2 1402.2,305.9 1402.9,305.6 1403.6,305.3 1404.3,305.0 1404.9,304.8 1405.6,304.5 1406.3,304.2 1407.0,303.9 1407.7,303.6 1408.4,303.3 1409.1,303.0 1409.8,302.7 1410.5,302.4 1411.2,302.1 1411.9,301.9 1412.5,301.6 1413.2,301.3 1413.9,301.0 1414.6,300.7 1415.3,300.4 1416.0,300.1 1416.7,299.8 1417.4,299.5 1418.1,299.2 1418.8,298.9 1419.4,298.6 1420.1,298.4 1420.8,298.1 1421.5,297.8 1422.2,297.5 1422.9,297.3 1423.6,297.0 1424.2,296.7 1424.9,296.5 1425.6,296.2 1426.3,296.0 1427.0,295.7 1427.7,295.5 1428.4,295.3 1429.1,295.0 1429.8,294.8 1430.5,294.6 1431.2,294.3 1431.9,294.1 1432.6,293.9 1433.3,293.7 1433.9,293.5 1434.6,293.3 1435.3,293.1 1436.0,293.0 1436.7,292.8 1437.4,292.7 1438.1,292.5 1438.8,292.4 1439.5,292.3 1440.2,292.1 1440.9,292.0 1441.5,291.9 1442.2,291.8 1442.9,291.8 1443.6,291.7 1444.3,291.6 1445.1,291.6 1445.8,291.5 1446.5,291.5 1447.2,291.4 1447.9,291.4 1448.7,291.4 1449.4,291.3 1450.1,291.3 1450.9,291.3 1451.6,291.3 1452.3,291.3 1453.0,291.3 1453.8,291.3 1454.5,291.3 1455.2,291.3 1456.0,291.3 1456.7,291.3 1457.4,291.3 1458.1,291.4 1458.8,291.4 1459.5,291.5 1460.2,291.5 1460.9,291.6 1461.5,291.6 1462.2,291.7 1462.8,291.8 1463.4,291.9 1464.1,292.0 1464.7,292.2 1465.3,292.3 1465.9,292.5 1466.5,292.7 1467.1,292.9 1467.7,293.1 1468.3,293.4 1469.0,293.6 1469.6,293.9 1470.2,294.2 1470.8,294.5 1471.4,294.9 1472.0,295.2 1472.6,295.6 1473.2,296.0 1473.8,296.3 1474.4,296.7 1475.0,297.1 1475.6,297.5 1476.2,298.0 1476.7,298.4 1477.3,298.8 1477.9,299.3 1478.4,299.7 1479.0,300.2 1479.6,300.6 1480.1,301.1 1480.7,301.6 1481.2,302.1 1481.8,302.6 1482.3,303.1 1482.8,303.6 1483.4,304.1 1483.9,304.6 1484.4,305.1 1484.9,305.6 1485.4,306.2 1485.9,306.7 1486.4,307.2 1486.9,307.8 1487.4,308.3 1487.9,308.9 1488.4,309.4 1488.8,310.0 1489.3,310.6 1489.8,311.1 1490.2,311.7 1490.6,312.3 1491.1,312.8 1491.5,313.4 1492.0,314.0 1492.4,314.6 1492.8,315.2 1493.3,315.8 1493.7,316.4 1494.1,317.0 1494.5,317.6 1495.0,318.2 1495.4,318.8 1495.8,319.4 1496.3,320.0 1496.7,320.6 1497.1,321.2 1497.6,321.8 1498.0,322.4 1498.4,323.0 1498.8,323.6 1499.2,324.3 1499.6,324.9 1500.0,325.5 1500.4,326.1 1500.8,326.7 1501.2,327.3 1501.6,328.0 1502.0,328.6 1502.3,329.2 1502.7,329.8 1503.1,330.5 1503.4,331.1 1503.8,331.7 1504.1,332.4 1504.5,333.0 1504.8,333.7 1505.2,334.3 1505.5,335.0 1505.9,335.6 1506.2,336.3 1506.5,336.9 1506.9,337.6 1507.2,338.2 1507.5,338.9 1507.8,339.6 1508.1,340.2 1508.4,340.9 1508.7,341.6 1509.0,342.2 1509.3,342.9 1509.7,343.6 1510.0,344.3 1510.3,345.0 1510.6,345.6 1510.9,346.3 1511.2,347.0 1511.5,347.7 1511.8,348.4 1512.2,349.1 1512.5,349.7 1512.8,350.4 1513.1,351.1 1513.4,351.8 1513.8,352.5 1514.1,353.2 1514.4,353.8 1514.8,354.5 1515.1,355.2 1515.4,355.9 1515.7,356.5 1516.1,357.2 1516.4,357.9 1516.7,358.6 1517.1,359.2 1517.4,359.9 1517.7,360.6 1518.0,361.3 1518.3,361.9 1518.7,362.6 1519.0,363.3 1519.3,364.0 1519.6,364.6 1519.9,365.3 1520.2,366.0 1520.5,366.7 1520.9,367.3 1521.2,368.0 1521.5,368.7 1521.8,369.4 1522.1,370.1 1522.4,370.7 1522.7,371.4 1523.0,372.1 1523.4,372.8 1523.7,373.5 1524.0,374.2 1524.3,374.8 1524.6,375.5 1524.9,376.2 1525.3,376.9 1525.6,377.6 1525.9,378.3 1526.2,378.9 1526.6,379.6 1526.9,380.3 1527.2,381.0 1527.6,381.6 1527.9,382.3 1528.2,383.0 1528.5,383.7 1528.9,384.3 1529.2,385.0 1529.5,385.7 1529.9,386.4 1530.2,387.0 1530.5,387.7 1530.8,388.4 1531.1,389.1 1531.5,389.7 1531.8,390.4 1532.1,391.1 1532.4,391.8 1532.7,392.4 1533.0,393.1 1533.3,393.8 1533.6,394.5 1533.9,395.1 1534.2,395.8 1534.5,396.5 1534.8,397.2 1535.1,397.9 1535.4,398.5 1535.7,399.2 1536.0,399.9 1536.3,400.6 1536.6,401.3 1536.9,402.0 1537.2,402.6 1537.5,403.3 1537.8,404.0 1538.1,404.7 1538.4,405.4 1538.6,406.1 1538.9,406.8 1539.2,407.5 1539.5,408.1 1539.8,408.8 1540.0,409.5 1540.3,410.2 1540.6,410.9 1540.9,411.6 1541.1,412.3 1541.4,413.0 1541.7,413.7 1542.0,414.4 1542.2,415.1 1542.5,415.8 1542.8,416.5 1543.0,417.2 1543.3,417.9 1543.6,418.6 1543.8,419.3 1544.1,420.0 1544.4,420.6 1544.6,421.3 1544.9,422.0 1545.1,422.7 1545.4,423.4 1545.6,424.1 1545.9,424.8 1546.2,425.5 1546.4,426.2 1546.7,427.0 1546.9,427.7 1547.2,428.4 1547.4,429.1 1547.7,429.8 1547.9,430.5 1548.2,431.2 1548.4,431.9 1548.7,432.6 1548.9,433.3 1549.2,434.0 1549.4,434.7 1549.7,435.4 1549.9,436.1 1550.2,436.8 1550.4,437.5 1550.7,438.2 1550.9,438.9 1551.2,439.6 1551.4,440.3 1551.6,441.0 1551.9,441.7 1552.1,442.5 1552.4,443.2 1552.6,443.9 1552.8,444.6 1553.1,445.3 1553.3,446.0 1553.6,446.7 1553.8,447.4 1554.0,448.1 1554.3,448.8 1554.5,449.6 1554.8,450.3 1555.0,451.0 1555.2,451.7 1555.5,452.4 1555.7,453.1 1555.9,453.8 1556.2,454.5 1556.4,455.2 1556.7,455.9 1556.9,456.7 1557.1,457.4 1557.4,458.1 1557.6,458.8 1557.8,459.5 1558.1,460.2 1558.3,460.9 1558.5,461.6 1558.8,462.3 1559.0,463.1 1559.2,463.8 1559.5,464.5 1559.7,465.2 1560.0,465.9 1560.2,466.6 1560.4,467.3 1560.7,468.1 1560.9,468.8 1561.1,469.5 1561.4,470.2 1561.6,470.9 1561.9,471.6 1562.1,472.3 1562.4,473.0 1562.6,473.8 1562.9,474.5 1563.1,475.2 1563.4,475.9 1563.6,476.6 1563.9,477.3 1564.1,478.0 1564.4,478.7 1564.7,479.4 1564.9,480.2 1565.2,480.9 1565.4,481.6 1565.7,482.3 1566.0,483.0 1566.2,483.7 1566.5,484.4 1566.7,485.1 1567.0,485.8 1567.3,486.5 1567.5,487.2 1567.8,487.9 1568.1,488.6 1568.3,489.3 1568.6,490.0 1568.9,490.7 1569.1,491.4 1569.4,492.1 1569.7,492.8 1569.9,493.5 1570.2,494.2 1570.5,494.9 1570.7,495.6 1571.0,496.3 1571.3,497.0 1571.6,497.7 1571.8,498.4 1572.1,499.1 1572.3,499.8 1572.6,500.5 1572.9,501.2 1573.1,501.9 1573.4,502.6 1573.6,503.3 1573.8,504.0 1574.1,504.7 1574.3,505.4 1574.5,506.1 1574.8,506.8 1575.0,507.5 1575.2,508.2 1575.4,508.9 1575.6,509.6 1575.8,510.3 1576.0,511.0 1576.2,511.7 1576.4,512.4 1576.6,513.1 1576.8,513.9 1577.0,514.6 1577.3,515.3 1577.5,516.0 1577.7,516.7 1577.9,517.5 1578.1,518.2 1578.3,518.9 1578.5,519.6 1578.7,520.3 1578.9,521.1 1579.1,521.8 1579.3,522.5 1579.5,523.2 1579.7,524.0 1579.9,524.7 1580.1,525.4 1580.3,526.1 1580.5,526.9 1580.8,527.6 1581.0,528.3 1581.2,529.0 1581.4,529.7 1581.6,530.5 1581.8,531.2 1582.0,531.9 1582.2,532.6 1582.4,533.3 1582.6,534.1 1582.9,534.8 1583.1,535.5 1583.3,536.2 1583.5,536.9 1583.7,537.7 1583.9,538.4 1584.1,539.1 1584.3,539.8 1584.5,540.5 1584.7,541.3 1584.9,542.0 1585.2,542.7 1585.4,543.4 1585.6,544.1 1585.8,544.9 1586.0,545.6 1586.2,546.3 1586.4,547.0 1586.6,547.7 1586.8,548.5 1587.0,549.2 1587.2,549.9 1587.4,550.6 1587.6,551.3 1587.8,552.1 1588.0,552.8 1588.3,553.5 1588.5,554.2 1588.7,554.9 1588.9,555.7 1589.1,556.4 1589.3,557.1 1589.5,557.8 1589.7,558.6 1589.9,559.3 1590.1,560.0 1590.3,560.7 1590.5,561.4 1590.8,562.2 1591.0,562.9 1591.2,563.6 1591.4,564.3 1591.6,565.1 1591.8,565.8 1592.1,566.5 1592.3,567.2 1592.5,567.9 1592.7,568.7 1592.9,569.4 1593.2,570.1 1593.4,570.8 1593.6,571.5 1593.8,572.3 1594.1,573.0 1594.3,573.7 1594.5,574.4 1594.7,575.1 1595.0,575.8 1595.2,576.6 1595.4,577.3 1595.6,578.0 1595.9,578.7 1596.1,579.4 1596.3,580.1 1596.5,580.8 1596.7,581.6 1596.9,582.3 1597.2,583.0 1597.4,583.7 1597.6,584.4 1597.8,585.1 1598.0,585.8 1598.2,586.5 1598.4,587.3 1598.6,588.0 1598.8,588.7 1599.0,589.4 1599.2,590.1 1599.4,590.9 1599.6,591.6 1599.8,592.3 1600.1,593.0 1600.3,593.7 1600.5,594.5 1600.7,595.2 1600.9,595.9 1601.1,596.6 1601.3,597.3 1601.5,598.1 1601.7,598.8 1601.9,599.5 1602.1,600.2 1602.3,601.0 1602.5,601.7 1602.7,602.4 1602.9,603.1 1603.1,603.8 1603.3,604.6 1603.6,605.3 1603.8,606.0 1604.0,606.7 1604.2,607.5 1604.4,608.2 1604.6,608.9 1604.8,609.6 1605.0,610.3 1605.2,611.1 1605.4,611.8 1605.7,612.5 1605.9,613.2 1606.1,613.9 1606.3,614.7 1606.5,615.4 1606.7,616.1 1606.9,616.8 1607.2,617.6 1607.4,618.3 1607.6,619.0 1607.8,619.7 1608.1,620.5 1608.3,621.2 1608.5,621.9 1608.8,622.6 1609.0,623.3 1609.2,624.0 1609.5,624.8 1609.7,625.5 1609.9,626.2 1610.2,626.9 1610.4,627.6 1610.7,628.3 1610.9,629.1 1611.1,629.8 1611.4,630.5 1611.6,631.2 1611.9,631.9 1612.1,632.6 1612.3,633.3 1612.6,634.0 1612.8,634.7 1613.1,635.5 1613.3,636.2 1613.5,636.9 1613.8,637.6 1614.0,638.3 1614.2,639.0 1614.5,639.7 1614.7,640.4 1615.0,641.1 1615.2,641.8 1615.4,642.6 1615.7,643.3 1615.9,644.0 1616.1,644.7 1616.4,645.4 1616.6,646.1 1616.9,646.8 1617.1,647.5 1617.3,648.2 1617.6,649.0 1617.8,649.7 1618.0,650.4 1618.3,651.1 1618.5,651.8 1618.8,652.5 1619.0,653.2 1619.2,653.9 1619.5,654.7 1619.7,655.4 1620.0,656.1 1620.2,656.8 1620.4,657.5 1620.7,658.2 1620.9,658.9 1621.2,659.6 1621.4,660.4 1621.7,661.1 1621.9,661.8 1622.2,662.5 1622.4,663.2 1622.7,663.9 1622.9,664.6 1623.2,665.3 1623.5,666.0 1623.7,666.7 1624.0,667.5 1624.2,668.2 1624.5,668.9 1624.7,669.6 1625.0,670.3 1625.2,671.0 1625.5,671.7 1625.8,672.4 1626.0,673.1 1626.3,673.8 1626.5,674.5 1626.8,675.2 1627.0,675.9 1627.3,676.6 1627.6,677.3 1627.8,678.0 1628.1,678.7 1628.3,679.4 1628.6,680.2 1628.8,680.9 1629.1,681.6 1629.3,682.3 1629.6,683.0 1629.9,683.7 1630.1,684.4 1630.4,685.1 1630.6,685.8 1630.9,686.5 1631.1,687.2 1631.4,687.9 1631.7,688.6 1631.9,689.3 1632.2,690.0 1632.4,690.7 1632.7,691.4 1632.9,692.1 1633.2,692.8 1633.5,693.6 1633.7,694.3 1634.0,695.0 1634.3,695.7 1634.5,696.4 1634.8,697.1 1635.1,697.8 1635.3,698.5 1635.6,699.2 1635.9,699.9 1636.1,700.6 1636.4,701.3 1636.7,702.0 1637.0,702.7 1637.2,703.4 1637.5,704.1 1637.8,704.8 1638.1,705.5 1638.4,706.2 1638.6,706.9 1638.9,707.6 1639.2,708.3 1639.5,709.0 1639.7,709.7 1640.0,710.4 1640.3,711.1 1640.6,711.8 1640.9,712.5 1641.1,713.2 1641.4,713.9 1641.7,714.6 1642.0,715.3 1642.2,716.0 1642.5,716.7 1642.8,717.4 1643.1,718.1 1643.4,718.8 1643.6,719.5 1643.9,720.2 1644.2,720.8 1644.5,721.5 1644.7,722.2 1645.0,722.9 1645.3,723.6 1645.6,724.3 1645.9,725.0 1646.2,725.7 1646.4,726.4 1646.7,727.1 1647.0,727.8 1647.3,728.5 1647.6,729.2 1647.9,729.9 1648.2,730.6 1648.5,731.3 1648.8,732.0 1649.1,732.7 1649.4,733.4 1649.7,734.1 1650.0,734.8 1650.3,735.5 1650.6,736.2 1650.9,736.9 1651.3,737.5 1651.6,738.2 1651.9,738.9 1652.2,739.6 1652.5,740.3 1652.9,741.0 1653.2,741.6 1653.5,742.3 1653.8,743.0 1654.1,743.7 1654.4,744.4 1654.7,745.0 1655.1,745.7 1655.4,746.4 1655.7,747.1 1656.0,747.7 1656.3,748.4 1656.6,749.1 1656.9,749.8 1657.2,750.5 1657.5,751.2 1657.8,751.8 1658.1,752.5 1658.4,753.2 1658.7,753.9 1659.0,754.6 1659.3,755.3 1659.6,755.9 1659.9,756.6 1660.1,757.3 1660.4,758.0 1660.7,758.7 1661.0,759.4 1661.3,760.1 1661.6,760.7 1661.9,761.4 1662.2,762.1 1662.5,762.8 1662.7,763.5 1663.0,764.2 1663.3,764.9 1663.6,765.6 1663.9,766.3 1664.2,767.0 1664.5,767.7 1664.8,768.4 1665.1,769.1 1665.4,769.8 1665.7,770.5 1666.0,771.1 1666.3,771.8 1666.6,772.5 1666.9,773.2 1667.2,773.9 1667.5,774.6 1667.8,775.2 1668.1,775.9 1668.4,776.6 1668.7,777.3 1669.0,778.0 1669.2,778.7 1669.5,779.3 1669.8,780.0 1670.1,780.7 1670.4,781.4 1670.7,782.1 1670.9,782.8 1671.2,783.5 1671.5,784.2 1671.8,784.9 1672.1,785.6 1672.4,786.3 1672.7,787.0 1673.0,787.7 1673.3,788.4 1673.6,789.1 1673.9,789.8 1674.2,790.4 1674.5,791.1 1674.8,791.8 1675.1,792.5 1675.4,793.2 1675.7,793.9 1676.0,794.6 1676.3,795.3 1676.6,796.0 1676.9,796.7 1677.3,797.3 1677.6,798.0 1677.9,798.7 1678.2,799.4 1678.5,800.1 1678.9,800.8 1679.2,801.5 1679.5,802.1 1679.9,802.8 1680.2,803.5 1680.5,804.2 1680.9,804.9 1681.2,805.5 1681.5,806.2 1681.9,806.9 1682.2,807.6 1682.5,808.2 1682.8,808.9 1683.2,809.6 1683.5,810.2 1683.8,810.9 1684.2,811.6 1684.5,812.3 1684.9,812.9 1685.2,813.6 1685.5,814.3 1685.9,815.0 1686.2,815.6 1686.5,816.3 1686.9,817.0 1687.2,817.6 1687.6,818.3 1687.9,819.0 1688.2,819.7 1688.6,820.3 1688.9,821.0 1689.3,821.7 1689.6,822.3 1689.9,823.0 1690.3,823.7 1690.6,824.3 1691.0,825.0 1691.3,825.7 1691.7,826.4 1692.0,827.0 1692.4,827.7 1692.7,828.4 1693.1,829.0 1693.4,829.7 1693.8,830.3 1694.1,831.0 1694.5,831.7 1694.8,832.3 1695.2,833.0 1695.5,833.7 1695.9,834.3 1696.2,835.0 1696.6,835.6 1696.9,836.3 1697.3,837.0 1697.6,837.6 1698.0,838.3 1698.4,839.0 1698.7,839.6 1699.1,840.3 1699.4,841.0 1699.8,841.6 1700.2,842.3 1700.6,843.0 1700.9,843.6 1701.3,844.3 1701.7,844.9 1702.1,845.6 1702.6,846.2 1703.0,846.9 1703.4,847.5 1703.8,848.2 1704.3,848.8 1704.7,849.4 1705.2,850.1 1705.6,850.7 1706.0,851.3 1706.5,851.9 1706.9,852.5 1707.4,853.1 1707.8,853.7 1708.2,854.4 1708.7,855.0 1709.1,855.6 1709.5,856.2 1709.9,856.8 1710.3,857.4 1710.7,858.0 1711.0,858.6 1711.4,859.2 1711.7,859.8 1712.1,860.4 1712.4,861.1 1712.8,861.7 1713.1,862.3 1713.4,863.0 1713.7,863.6 1714.1,864.3 1714.4,864.9 1714.7,865.6 1715.1,866.2 1715.4,866.9 1715.7,867.6 1716.1,868.3 1716.5,868.9 1716.8,869.6 1717.2,870.3 1717.6,870.9 1718.0,871.6 1718.4,872.3 1718.8,872.9 1719.2,873.6 1719.6,874.2 1720.0,874.9 1720.4,875.5 1720.8,876.2 1721.2,876.8 1721.6,877.4 1722.0,878.1 1722.4,878.7 1722.8,879.3 1723.2,879.9 1723.6,880.6 1724.0,881.2 1724.3,881.8 1724.7,882.5 1725.1,883.1 1725.4,883.7 1725.8,884.4 1726.1,885.0 1726.5,885.7 1726.8,886.3 1727.2,887.0 1727.6,887.6 1727.9,888.3 1728.3,888.9 1728.7,889.6 1729.1,890.3 1729.5,890.9 1729.9,891.6 1730.3,892.2 1730.7,892.9 1731.1,893.5 1731.5,894.1 1731.9,894.8 1732.3,895.4 1732.7,896.0 1733.1,896.7 1733.5,897.3 1733.9,897.9 1734.2,898.6 1734.6,899.2 1735.0,899.8 1735.4,900.5 1735.7,901.1 1736.1,901.7 1736.5,902.4 1736.9,903.0 1737.3,903.7 1737.7,904.3 1738.1,905.0 1738.5,905.6 1739.0,906.2 1739.4,906.9 1739.8,907.5 1740.3,908.1 1740.8,908.8 1741.2,909.4 1741.7,910.0 1742.2,910.6 1742.6,911.2 1743.1,911.8 1743.6,912.4 1744.1,913.0 1744.5,913.6 1745.0,914.2 1745.5,914.7 1746.0,915.3 1746.5,915.9 1746.9,916.5 1747.4,917.1 1747.9,917.7 1748.4,918.2 1748.8,918.8 1749.3,919.4 1749.8,920.0 1750.3,920.6 1750.7,921.1 1751.2,921.7 1751.7,922.3 1752.1,922.9 1752.6,923.5 1753.1,924.0 1753.5,924.6 1754.0,925.2 1754.5,925.8 1754.9,926.4 1755.4,927.0 1755.8,927.6 1756.3,928.1 1756.7,928.7 1757.1,929.3 1757.6,929.9 1758.0,930.5 1758.5,931.1 1758.9,931.7 1759.3,932.3 1759.8,932.9 1760.2,933.5 1760.6,934.1 1761.1,934.7 1761.5,935.3 1762.0,935.9 1762.5,936.6 1762.9,937.2 1763.4,937.8 1763.9,938.4 1764.4,938.9 1764.9,939.5 1765.3,940.1 1765.8,940.7 1766.4,941.3 1766.9,941.9 1767.4,942.4 1767.9,943.0 1768.4,943.6 1769.0,944.1 1769.5,944.7 1770.0,945.2 1770.6,945.7 1771.1,946.3 1771.7,946.8 1772.2,947.3 1772.7,947.9 1773.3,948.4 1773.8,949.0 1774.4,949.5 1774.9,950.0 1775.4,950.5 1776.0,951.1 1776.5,951.6 1777.0,952.1 1777.6,952.6 1778.1,953.1 1778.7,953.7 1779.2,954.2 1779.8,954.7 1780.3,955.3 1780.9,955.8 1781.4,956.3 1782.0,956.8 1782.5,957.3 1783.1,957.9 1783.7,958.4 1784.2,958.9 1784.8,959.4 1785.4,959.9 1786.0,960.4 1786.6,960.9 1787.2,961.4 1787.8,961.8 1788.4,962.3 1789.0,962.8 1789.6,963.2 1790.2,963.7 1790.8,964.1 1791.4,964.6 1792.0,965.0 1792.6,965.5 1793.2,965.9 1793.8,966.4 1794.4,966.8 1795.1,967.2 1795.7,967.7 1796.3,968.1 1796.9,968.6 1797.5,969.0 1798.1,969.4 1798.7,969.9 1799.3,970.3 1799.9,970.7 1800.5,971.2 1801.1,971.6 1801.7,972.1 1802.3,972.5 1802.9,973.0 1803.5,973.4 1804.2,973.9 1804.8,974.4 1805.4,974.8 1806.1,975.2 1806.7,975.7 1807.4,976.1 1808.0,976.5 1808.7,976.9 1809.4,977.4 1810.0,977.7 1810.7,978.1 1811.4,978.5 1812.1,978.9 1812.8,979.2 1813.5,979.6 1814.2,979.9 1815.0,980.2 1815.7,980.5 1816.4,980.8 1817.1,981.1 1817.9,981.4 1818.6,981.6 1819.4,981.9 1820.1,982.1 1820.9,982.4 1821.6,982.6 1822.4,982.8 1823.2,983.0 1823.9,983.1 1824.7,983.3 1825.5,983.5 1826.2,983.6 1827.0,983.8 1827.8,983.9 1828.6,984.0 1829.3,984.1 1830.1,984.2 1830.9,984.3 1831.7,984.4 1832.4,984.5 1833.2,984.5 1834.0,984.6 1834.7,984.6 1835.5,984.7 1836.3,984.7 1837.1,984.8 1837.8,984.8 1838.6,984.8 1839.3,984.9 1840.1,984.9 1840.9,984.9 1841.6,984.9 1842.4,984.9 1843.2,984.9 1843.9,984.9 1844.7,984.9 1845.4,984.9 1846.2,984.9 1846.9,984.9 1847.7,984.9 1848.5,984.9 1849.2,984.9 1850.0,984.9 1850.7,984.9 1851.5,984.9 1852.2,984.9 1853.0,984.8 1853.8,984.8 1854.6,984.8 1855.3,984.7 1856.1,984.7 1856.9,984.6 1857.7,984.5 1858.5,984.4 1859.3,984.3 1860.1,984.2 1860.9,984.0 1861.6,983.8 1862.4,983.6 1863.2,983.4 1864.0,983.1 1864.7,982.9 1865.5,982.6 1866.2,982.2 1866.9,981.9 1867.7,981.6 1868.4,981.3 1869.0,980.9 1869.7,980.6 1870.4,980.2 1871.1,979.9 1871.8,979.5 1872.4,979.2 1873.1,978.8 1873.8,978.5 1874.4,978.1 1875.1,977.7 1875.8,977.4 1876.4,977.0 1877.1,976.6 1877.8,976.3 1878.4,975.9 1879.1,975.5 1879.8,975.0 1880.4,974.6 1881.1,974.2 1881.7,973.8 1882.3,973.3 1883.0,972.9 1883.6,972.4 1884.2,971.9 1884.8,971.4 1885.4,970.9 1886.0,970.5 1886.6,970.0 1887.2,969.4 1887.8,968.9 1888.4,968.4 1888.9,967.9 1889.5,967.4 1890.1,966.8 1890.6,966.3 1891.2,965.8 1891.7,965.3 1892.3,964.7 1892.8,964.2 1893.3,963.6 1893.9,963.1 1894.4,962.6 1894.9,962.0 1895.5,961.5 1896.0,961.0 1896.5,960.4 1897.1,959.9 1897.6,959.4 1898.1,958.8 1898.7,958.3 1899.2,957.8 1899.7,957.3 1900.2,956.7 1900.8,956.2 1901.3,955.7 1901.8,955.1 1902.4,954.6 1902.9,954.1 1903.4,953.5 1904.0,953.0 1904.5,952.4 1905.0,951.9 1905.5,951.4 1906.1,950.8 1906.6,950.3 1907.1,949.7 1907.6,949.2 1908.2,948.6 1908.7,948.1 1909.2,947.5 1909.7,946.9 1910.2,946.4 1910.7,945.8 1911.2,945.2 1911.7,944.7 1912.2,944.1 1912.7,943.5 1913.2,943.0 1913.7,942.4 1914.2,941.8 1914.7,941.2 1915.2,940.7 1915.7,940.1 1916.2,939.5 1916.7,938.9 1917.1,938.3 1917.6,937.7 1918.1,937.1 1918.6,936.5 1919.0,935.9 1919.5,935.3 1920.0,934.7 1920.4,934.1 1920.9,933.5 1921.3,932.9 1921.8,932.3 1922.2,931.7 1922.7,931.1 1923.1,930.5 1923.6,929.9 1924.0,929.3 1924.5,928.7 1924.9,928.1 1925.4,927.5 1925.8,926.9 1926.3,926.3 1926.7,925.7 1927.2,925.0 1927.6,924.4 1928.0,923.8 1928.5,923.2 1928.9,922.6 1929.3,922.0 1929.8,921.4 1930.2,920.7 1930.6,920.1 1931.1,919.5 1931.5,918.9 1931.9,918.3 1932.4,917.7 1932.8,917.1 1933.2,916.4 1933.6,915.8 1934.1,915.2 1934.5,914.6 1934.9,914.0 1935.4,913.4 1935.8,912.8 1936.2,912.2 1936.7,911.5 1937.1,910.9 1937.5,910.3 1938.0,909.7 1938.4,909.1 1938.8,908.5 1939.3,907.9 1939.7,907.3 1940.1,906.6 1940.6,906.0 1941.0,905.4 1941.4,904.8 1941.9,904.2 1942.3,903.5 1942.7,902.9 1943.2,902.3 1943.6,901.7 1944.0,901.0 1944.4,900.4 1944.8,899.8 1945.3,899.1 1945.7,898.5 1946.1,897.9 1946.5,897.2 1946.9,896.6 1947.3,896.0 1947.7,895.4 1948.1,894.8 1948.5,894.1 1948.9,893.5 1949.3,892.9 1949.7,892.3 1950.1,891.7 1950.5,891.1 1951.0,890.5 1951.4,889.9 1951.8,889.3 1952.3,888.7 1952.7,888.1 1953.1,887.5 1953.6,886.9 1954.0,886.2 1954.5,885.6 1954.9,885.0 1955.4,884.4 1955.8,883.8 1956.3,883.2 1956.7,882.6 1957.2,881.9 1957.6,881.3 1958.0,880.7 1958.4,880.0 1958.9,879.4 1959.3,878.8 1959.7,878.1 1960.1,877.5 1960.5,876.8 1960.9,876.2 1961.3,875.6 1961.7,874.9 1962.1,874.3 1962.5,873.6 1962.9,873.0 1963.3,872.3 1963.7,871.7 1964.1,871.0 1964.4,870.4 1964.8,869.8 1965.2,869.1 1965.6,868.5 1966.0,867.8 1966.4,867.2 1966.7,866.5 1967.1,865.9 1967.5,865.2 1967.9,864.6 1968.3,863.9 1968.7,863.3 1969.0,862.6 1969.4,862.0 1969.8,861.3 1970.2,860.7 1970.6,860.0 1970.9,859.4 1971.3,858.7 1971.7,858.1 1972.1,857.4 1972.4,856.8 1972.8,856.1 1973.2,855.5 1973.6,854.8 1973.9,854.1 1974.3,853.5 1974.7,852.8 1975.0,852.2 1975.4,851.5 1975.8,850.8 1976.1,850.2 1976.5,849.5 1976.9,848.8 1977.2,848.2 1977.6,847.5 1977.9,846.8 1978.3,846.2 1978.6,845.5 1979.0,844.8 1979.3,844.2 1979.7,843.5 1980.0,842.8 1980.4,842.1 1980.7,841.5 1981.0,840.8 1981.4,840.1 1981.7,839.5 1982.1,838.8 1982.4,838.1 1982.7,837.5 1983.1,836.8 1983.4,836.1 1983.7,835.5 1984.1,834.8 1984.4,834.1 1984.8,833.5 1985.1,832.8 1985.4,832.1 1985.8,831.5 1986.1,830.8 1986.5,830.2 1986.8,829.5 1987.1,828.8 1987.5,828.2 1987.8,827.5 1988.2,826.9 1988.5,826.2 1988.9,825.6 1989.2,825.0 1989.6,824.3 1990.0,823.7 1990.3,823.0 1990.7,822.4 1991.1,821.8 1991.4,821.2 1991.8,820.6 1992.2,819.9 1992.6,819.3 1993.0,818.7 1993.4,818.1 1993.8,817.5 1994.2,817.0 1994.6,816.4 1995.0,815.8 1995.5,815.2 1995.9,814.6 1996.4,814.0 1996.8,813.4 1997.3,812.9 1997.7,812.3 1998.2,811.7 1998.7,811.1 1999.2,810.5 1999.6,810.0 2000.1,809.4 2000.6,808.8 2001.1,808.2 2001.5,807.6 2002.0,807.1 2002.5,806.5 2002.9,805.9 2003.4,805.3 2003.9,804.8 2004.3,804.2 2004.8,803.6 2005.3,803.1 2005.7,802.5 2006.1,802.0 2006.6,801.5 2007.0,801.0 2007.4,800.5 2007.8,800.0 2008.2,799.6 2008.6,799.2 2008.9,798.8 2009.2,798.4 2009.5,798.1 2009.7,797.8 2006.2,794.7 2005.9,795.0 2005.6,795.3 2005.3,795.7 2005.0,796.1 2004.6,796.5 2004.2,796.9 2003.8,797.4 2003.4,797.9 2002.9,798.4 2002.5,798.9 2002.0,799.4 2001.6,800.0 2001.1,800.5 2000.6,801.1 2000.1,801.7 1999.7,802.2 1999.2,802.8 1998.7,803.4 1998.2,804.0 1997.8,804.6 1997.3,805.1 1996.8,805.7 1996.3,806.3 1995.9,806.9 1995.4,807.5 1994.9,808.0 1994.4,808.6 1993.9,809.2 1993.5,809.8 1993.0,810.4 1992.5,810.9 1992.0,811.5 1991.5,812.1 1991.1,812.7 1990.6,813.3 1990.1,813.9 1989.6,814.5 1989.2,815.2 1988.7,815.8 1988.3,816.4 1987.8,817.0 1987.4,817.7 1986.9,818.3 1986.5,819.0 1986.1,819.6 1985.7,820.3 1985.3,820.9 1984.9,821.6 1984.5,822.2 1984.1,822.9 1983.7,823.6 1983.4,824.2 1983.0,824.9 1982.6,825.6 1982.3,826.2 1981.9,826.9 1981.5,827.6 1981.2,828.2 1980.8,828.9 1980.5,829.6 1980.1,830.2 1979.8,830.9 1979.4,831.6 1979.1,832.2 1978.7,832.9 1978.4,833.6 1978.1,834.3 1977.7,834.9 1977.4,835.6 1977.0,836.3 1976.7,836.9 1976.4,837.6 1976.0,838.3 1975.7,838.9 1975.3,839.6 1975.0,840.3 1974.7,840.9 1974.3,841.6 1974.0,842.3 1973.7,842.9 1973.3,843.6 1973.0,844.3 1972.6,844.9 1972.3,845.6 1971.9,846.2 1971.6,846.9 1971.3,847.5 1970.9,848.2 1970.6,848.8 1970.2,849.5 1969.8,850.2 1969.5,850.8 1969.1,851.5 1968.8,852.1 1968.4,852.8 1968.0,853.4 1967.7,854.1 1967.3,854.7 1966.9,855.4 1966.6,856.0 1966.2,856.7 1965.8,857.3 1965.5,857.9 1965.1,858.6 1964.7,859.2 1964.3,859.9 1964.0,860.5 1963.6,861.2 1963.2,861.8 1962.8,862.5 1962.5,863.1 1962.1,863.8 1961.7,864.4 1961.3,865.1 1960.9,865.7 1960.6,866.3 1960.2,867.0 1959.8,867.6 1959.4,868.3 1959.0,868.9 1958.6,869.6 1958.3,870.2 1957.9,870.8 1957.5,871.5 1957.1,872.1 1956.7,872.7 1956.3,873.4 1956.0,874.0 1955.6,874.6 1955.2,875.3 1954.8,875.9 1954.4,876.5 1954.0,877.2 1953.6,877.8 1953.2,878.4 1952.8,879.0 1952.4,879.6 1952.0,880.2 1951.6,880.8 1951.2,881.4 1950.8,882.0 1950.3,882.6 1949.9,883.3 1949.5,883.9 1949.0,884.5 1948.6,885.1 1948.1,885.7 1947.7,886.3 1947.3,886.9 1946.8,887.5 1946.4,888.1 1945.9,888.7 1945.5,889.4 1945.0,890.0 1944.6,890.6 1944.2,891.2 1943.7,891.9 1943.3,892.5 1942.9,893.1 1942.5,893.7 1942.0,894.4 1941.6,895.0 1941.2,895.6 1940.8,896.3 1940.4,896.9 1940.0,897.5 1939.6,898.1 1939.2,898.8 1938.8,899.4 1938.4,900.0 1938.0,900.6 1937.6,901.2 1937.2,901.8 1936.7,902.5 1936.3,903.1 1935.9,903.7 1935.5,904.3 1935.0,904.9 1934.6,905.5 1934.2,906.1 1933.8,906.7 1933.3,907.4 1932.9,908.0 1932.5,908.6 1932.0,909.2 1931.6,909.8 1931.2,910.4 1930.7,911.0 1930.3,911.6 1929.9,912.3 1929.4,912.9 1929.0,913.5 1928.6,914.1 1928.1,914.7 1927.7,915.3 1927.3,915.9 1926.8,916.6 1926.4,917.2 1926.0,917.8 1925.6,918.4 1925.1,919.0 1924.7,919.6 1924.3,920.2 1923.8,920.8 1923.4,921.5 1923.0,922.1 1922.5,922.7 1922.1,923.3 1921.7,923.9 1921.2,924.5 1920.8,925.1 1920.4,925.7 1919.9,926.3 1919.5,926.9 1919.1,927.5 1918.6,928.1 1918.2,928.7 1917.7,929.3 1917.3,929.9 1916.9,930.5 1916.4,931.1 1916.0,931.7 1915.5,932.3 1915.1,932.9 1914.6,933.5 1914.2,934.1 1913.7,934.7 1913.3,935.2 1912.8,935.8 1912.4,936.4 1911.9,937.0 1911.4,937.6 1911.0,938.1 1910.5,938.7 1910.0,939.3 1909.6,939.9 1909.1,940.4 1908.6,941.0 1908.1,941.6 1907.7,942.1 1907.2,942.7 1906.7,943.3 1906.2,943.8 1905.7,944.4 1905.2,944.9 1904.7,945.5 1904.2,946.0 1903.7,946.6 1903.2,947.1 1902.7,947.7 1902.2,948.2 1901.7,948.8 1901.2,949.3 1900.7,949.8 1900.2,950.4 1899.7,950.9 1899.2,951.4 1898.6,952.0 1898.1,952.5 1897.6,953.0 1897.1,953.6 1896.5,954.1 1896.0,954.6 1895.5,955.2 1895.0,955.7 1894.4,956.2 1893.9,956.8 1893.4,957.3 1892.8,957.8 1892.3,958.3 1891.8,958.9 1891.3,959.4 1890.7,959.9 1890.2,960.4 1889.6,960.9 1889.1,961.4 1888.6,961.9 1888.0,962.4 1887.5,962.9 1886.9,963.4 1886.4,963.9 1885.8,964.3 1885.3,964.8 1884.7,965.2 1884.1,965.7 1883.6,966.1 1883.0,966.6 1882.4,967.0 1881.8,967.4 1881.2,967.8 1880.6,968.2 1880.0,968.6 1879.4,969.0 1878.8,969.3 1878.2,969.7 1877.6,970.1 1877.0,970.4 1876.4,970.8 1875.7,971.1 1875.1,971.5 1874.4,971.8 1873.8,972.2 1873.2,972.5 1872.5,972.8 1871.8,973.2 1871.2,973.5 1870.5,973.9 1869.9,974.2 1869.2,974.5 1868.6,974.8 1867.9,975.2 1867.3,975.5 1866.6,975.8 1866.0,976.1 1865.3,976.3 1864.7,976.6 1864.0,976.8 1863.4,977.0 1862.8,977.2 1862.2,977.4 1861.5,977.6 1860.9,977.7 1860.3,977.9 1859.7,978.0 1859.0,978.1 1858.4,978.2 1857.7,978.2 1857.0,978.3 1856.4,978.4 1855.7,978.4 1855.0,978.5 1854.3,978.5 1853.5,978.5 1852.8,978.5 1852.1,978.6 1851.4,978.6 1850.6,978.6 1849.9,978.6 1849.1,978.6 1848.4,978.6 1847.7,978.6 1846.9,978.6 1846.2,978.6 1845.4,978.6 1844.7,978.6 1843.9,978.6 1843.2,978.6 1842.5,978.6 1841.7,978.6 1841.0,978.6 1840.3,978.6 1839.5,978.6 1838.8,978.5 1838.1,978.5 1837.3,978.5 1836.6,978.5 1835.9,978.4 1835.1,978.4 1834.4,978.3 1833.7,978.3 1833.0,978.2 1832.3,978.2 1831.6,978.1 1830.8,978.0 1830.1,977.9 1829.4,977.8 1828.7,977.7 1828.0,977.6 1827.3,977.5 1826.6,977.4 1825.9,977.3 1825.2,977.1 1824.6,977.0 1823.9,976.8 1823.2,976.7 1822.5,976.5 1821.8,976.3 1821.2,976.1 1820.5,975.9 1819.8,975.7 1819.1,975.5 1818.5,975.3 1817.8,975.1 1817.2,974.8 1816.5,974.6 1815.8,974.3 1815.2,974.0 1814.6,973.7 1813.9,973.4 1813.3,973.2 1812.6,972.8 1812.0,972.5 1811.4,972.2 1810.8,971.9 1810.2,971.5 1809.5,971.2 1808.9,970.8 1808.3,970.4 1807.7,970.0 1807.1,969.7 1806.5,969.2 1805.9,968.8 1805.3,968.4 1804.7,968.0 1804.1,967.5 1803.5,967.1 1802.9,966.7 1802.3,966.2 1801.7,965.8 1801.1,965.3 1800.5,964.9 1799.9,964.4 1799.3,964.0 1798.7,963.5 1798.0,963.1 1797.4,962.7 1796.8,962.2 1796.2,961.8 1795.6,961.4 1795.0,960.9 1794.4,960.5 1793.8,960.1 1793.2,959.6 1792.6,959.2 1792.0,958.7 1791.4,958.3 1790.8,957.9 1790.2,957.4 1789.7,957.0 1789.1,956.6 1788.5,956.1 1787.9,955.7 1787.3,955.2 1786.8,954.7 1786.2,954.3 1785.7,953.8 1785.1,953.3 1784.6,952.9 1784.0,952.4 1783.5,951.9 1782.9,951.4 1782.4,950.9 1781.8,950.4 1781.3,949.9 1780.7,949.3 1780.2,948.8 1779.7,948.3 1779.1,947.8 1778.6,947.3 1778.0,946.8 1777.5,946.2 1777.0,945.7 1776.4,945.2 1775.9,944.7 1775.4,944.2 1774.8,943.7 1774.3,943.1 1773.8,942.6 1773.3,942.1 1772.9,941.5 1772.4,941.0 1771.9,940.4 1771.4,939.9 1771.0,939.3 1770.5,938.7 1770.0,938.2 1769.6,937.6 1769.1,937.0 1768.7,936.5 1768.2,935.9 1767.8,935.3 1767.4,934.7 1766.9,934.1 1766.5,933.5 1766.1,932.9 1765.6,932.3 1765.2,931.7 1764.8,931.1 1764.3,930.5 1763.9,929.9 1763.4,929.3 1763.0,928.7 1762.5,928.1 1762.1,927.5 1761.6,926.9 1761.2,926.3 1760.7,925.7 1760.2,925.1 1759.7,924.5 1759.3,923.9 1758.8,923.3 1758.3,922.7 1757.8,922.1 1757.4,921.5 1756.9,921.0 1756.4,920.4 1755.9,919.8 1755.5,919.2 1755.0,918.6 1754.5,918.1 1754.0,917.5 1753.6,916.9 1753.1,916.3 1752.6,915.7 1752.1,915.1 1751.7,914.6 1751.2,914.0 1750.7,913.4 1750.2,912.8 1749.8,912.2 1749.3,911.7 1748.9,911.1 1748.4,910.5 1747.9,909.9 1747.5,909.3 1747.0,908.7 1746.6,908.2 1746.2,907.6 1745.8,907.0 1745.3,906.4 1744.9,905.8 1744.5,905.2 1744.2,904.6 1743.8,904.0 1743.4,903.4 1743.0,902.8 1742.6,902.1 1742.3,901.5 1741.9,900.9 1741.5,900.3 1741.2,899.6 1740.8,899.0 1740.4,898.3 1740.0,897.7 1739.6,897.0 1739.2,896.4 1738.8,895.8 1738.4,895.1 1738.0,894.5 1737.6,893.8 1737.2,893.2 1736.8,892.6 1736.4,891.9 1736.0,891.3 1735.6,890.7 1735.2,890.0 1734.9,889.4 1734.5,888.8 1734.1,888.2 1733.8,887.5 1733.4,886.9 1733.1,886.2 1732.7,885.6 1732.4,884.9 1732.0,884.3 1731.7,883.6 1731.3,883.0 1730.9,882.3 1730.5,881.7 1730.2,881.0 1729.8,880.4 1729.4,879.7 1729.0,879.0 1728.6,878.4 1728.2,877.8 1727.7,877.1 1727.3,876.5 1726.9,875.8 1726.5,875.2 1726.1,874.6 1725.7,873.9 1725.3,873.3 1724.9,872.7 1724.5,872.1 1724.2,871.4 1723.8,870.8 1723.4,870.2 1723.1,869.6 1722.7,868.9 1722.4,868.3 1722.1,867.6 1721.7,867.0 1721.4,866.3 1721.1,865.7 1720.7,865.0 1720.4,864.4 1720.1,863.7 1719.7,863.0 1719.4,862.4 1719.1,861.7 1718.7,861.0 1718.3,860.4 1718.0,859.7 1717.6,859.0 1717.2,858.3 1716.8,857.7 1716.4,857.0 1715.9,856.4 1715.5,855.7 1715.1,855.1 1714.6,854.5 1714.2,853.8 1713.7,853.2 1713.3,852.6 1712.8,852.0 1712.4,851.4 1712.0,850.8 1711.5,850.2 1711.1,849.6 1710.7,848.9 1710.3,848.3 1709.8,847.7 1709.4,847.1 1709.0,846.5 1708.6,845.9 1708.3,845.3 1707.9,844.7 1707.5,844.0 1707.1,843.4 1706.8,842.8 1706.4,842.2 1706.0,841.5 1705.7,840.9 1705.3,840.3 1705.0,839.6 1704.7,839.0 1704.3,838.3 1704.0,837.7 1703.6,837.0 1703.3,836.4 1702.9,835.7 1702.6,835.0 1702.2,834.4 1701.9,833.7 1701.5,833.0 1701.2,832.4 1700.8,831.7 1700.5,831.1 1700.1,830.4 1699.8,829.7 1699.4,829.1 1699.1,828.4 1698.7,827.7 1698.4,827.1 1698.0,826.4 1697.7,825.8 1697.3,825.1 1697.0,824.4 1696.6,823.8 1696.3,823.1 1696.0,822.4 1695.6,821.8 1695.3,821.1 1694.9,820.5 1694.6,819.8 1694.3,819.1 1693.9,818.5 1693.6,817.8 1693.2,817.1 1692.9,816.4 1692.6,815.8 1692.2,815.1 1691.9,814.4 1691.6,813.8 1691.2,813.1 1690.9,812.4 1690.6,811.8 1690.2,811.1 1689.9,810.4 1689.6,809.8 1689.2,809.1 1688.9,808.4 1688.6,807.7 1688.2,807.1 1687.9,806.4 1687.6,805.7 1687.3,805.1 1686.9,804.4 1686.6,803.7 1686.3,803.0 1685.9,802.4 1685.6,801.7 1685.3,801.0 1685.0,800.4 1684.6,799.7 1684.3,799.0 1684.0,798.3 1683.7,797.7 1683.4,797.0 1683.1,796.3 1682.8,795.6 1682.5,795.0 1682.2,794.3 1681.9,793.6 1681.6,792.9 1681.3,792.3 1681.0,791.6 1680.7,790.9 1680.4,790.2 1680.1,789.5 1679.8,788.8 1679.5,788.2 1679.2,787.5 1678.9,786.8 1678.6,786.1 1678.3,785.4 1678.0,784.7 1677.7,784.0 1677.5,783.4 1677.2,782.7 1676.9,782.0 1676.6,781.3 1676.3,780.6 1676.1,779.9 1675.8,779.2 1675.5,778.5 1675.2,777.8 1674.9,777.1 1674.6,776.4 1674.3,775.7 1674.0,775.0 1673.7,774.3 1673.4,773.6 1673.1,772.9 1672.8,772.2 1672.5,771.6 1672.2,770.9 1671.9,770.2 1671.6,769.5 1671.3,768.8 1671.0,768.1 1670.7,767.5 1670.4,766.8 1670.1,766.1 1669.8,765.4 1669.5,764.7 1669.3,764.0 1669.0,763.4 1668.7,762.7 1668.4,762.0 1668.1,761.3 1667.8,760.6 1667.5,759.9 1667.2,759.2 1667.0,758.5 1666.7,757.8 1666.4,757.1 1666.1,756.4 1665.8,755.7 1665.5,755.0 1665.2,754.3 1664.9,753.7 1664.6,753.0 1664.3,752.3 1664.0,751.6 1663.7,750.9 1663.4,750.2 1663.1,749.5 1662.8,748.8 1662.4,748.1 1662.1,747.4 1661.8,746.8 1661.5,746.1 1661.2,745.4 1660.9,744.7 1660.6,744.0 1660.3,743.3 1659.9,742.6 1659.6,742.0 1659.3,741.3 1659.0,740.6 1658.7,739.9 1658.3,739.2 1658.0,738.5 1657.7,737.9 1657.4,737.2 1657.1,736.5 1656.8,735.8 1656.5,735.2 1656.2,734.5 1655.9,733.8 1655.6,733.1 1655.3,732.5 1655.0,731.8 1654.7,731.1 1654.4,730.4 1654.1,729.7 1653.8,729.1 1653.5,728.4 1653.3,727.7 1653.0,727.0 1652.7,726.3 1652.4,725.6 1652.1,724.9 1651.8,724.2 1651.6,723.5 1651.3,722.8 1651.0,722.2 1650.7,721.5 1650.5,720.8 1650.2,720.1 1649.9,719.4 1649.6,718.7 1649.3,718.0 1649.1,717.3 1648.8,716.6 1648.5,715.9 1648.2,715.2 1648.0,714.5 1647.7,713.8 1647.4,713.1 1647.1,712.4 1646.8,711.7 1646.6,711.0 1646.3,710.3 1646.0,709.6 1645.7,708.9 1645.5,708.2 1645.2,707.5 1644.9,706.8 1644.6,706.1 1644.4,705.4 1644.1,704.7 1643.8,704.1 1643.5,703.4 1643.3,702.7 1643.0,702.0 1642.7,701.3 1642.4,700.6 1642.2,699.9 1641.9,699.2 1641.6,698.5 1641.4,697.8 1641.1,697.1 1640.8,696.4 1640.6,695.7 1640.3,695.0 1640.0,694.3 1639.8,693.6 1639.5,692.9 1639.3,692.2 1639.0,691.5 1638.8,690.8 1638.5,690.1 1638.2,689.4 1638.0,688.7 1637.7,688.0 1637.5,687.3 1637.2,686.6 1637.0,685.9 1636.7,685.2 1636.4,684.5 1636.2,683.8 1635.9,683.1 1635.7,682.4 1635.4,681.7 1635.2,680.9 1634.9,680.2 1634.7,679.5 1634.4,678.8 1634.1,678.1 1633.9,677.4 1633.6,676.7 1633.4,676.0 1633.1,675.3 1632.9,674.6 1632.6,673.9 1632.3,673.2 1632.1,672.5 1631.8,671.8 1631.6,671.1 1631.3,670.4 1631.1,669.7 1630.8,669.0 1630.6,668.3 1630.3,667.6 1630.0,666.9 1629.8,666.1 1629.5,665.4 1629.3,664.7 1629.0,664.0 1628.8,663.3 1628.5,662.6 1628.3,661.9 1628.0,661.2 1627.8,660.5 1627.5,659.8 1627.3,659.1 1627.1,658.4 1626.8,657.7 1626.6,657.0 1626.3,656.3 1626.1,655.6 1625.9,654.9 1625.6,654.2 1625.4,653.5 1625.1,652.8 1624.9,652.0 1624.7,651.3 1624.4,650.6 1624.2,649.9 1624.0,649.2 1623.7,648.5 1623.5,647.8 1623.2,647.1 1623.0,646.4 1622.8,645.6 1622.5,644.9 1622.3,644.2 1622.1,643.5 1621.8,642.8 1621.6,642.1 1621.3,641.4 1621.1,640.7 1620.9,640.0 1620.6,639.2 1620.4,638.5 1620.1,637.8 1619.9,637.1 1619.7,636.4 1619.4,635.7 1619.2,635.0 1619.0,634.3 1618.7,633.6 1618.5,632.8 1618.2,632.1 1618.0,631.4 1617.8,630.7 1617.5,630.0 1617.3,629.3 1617.0,628.6 1616.8,627.9 1616.6,627.2 1616.3,626.4 1616.1,625.7 1615.9,625.0 1615.6,624.3 1615.4,623.6 1615.2,622.9 1614.9,622.2 1614.7,621.5 1614.5,620.8 1614.2,620.1 1614.0,619.4 1613.8,618.6 1613.6,617.9 1613.4,617.2 1613.1,616.5 1612.9,615.8 1612.7,615.1 1612.5,614.4 1612.3,613.7 1612.1,613.0 1611.9,612.2 1611.7,611.5 1611.5,610.8 1611.2,610.1 1611.0,609.4 1610.8,608.6 1610.6,607.9 1610.4,607.2 1610.2,606.5 1610.0,605.8 1609.8,605.1 1609.6,604.3 1609.4,603.6 1609.2,602.9 1609.0,602.2 1608.8,601.5 1608.5,600.7 1608.3,600.0 1608.1,599.3 1607.9,598.6 1607.7,597.9 1607.5,597.1 1607.3,596.4 1607.1,595.7 1606.9,595.0 1606.7,594.2 1606.5,593.5 1606.3,592.8 1606.1,592.1 1605.9,591.4 1605.7,590.6 1605.5,589.9 1605.3,589.2 1605.1,588.5 1604.9,587.7 1604.6,587.0 1604.4,586.3 1604.2,585.6 1604.0,584.9 1603.8,584.1 1603.6,583.4 1603.4,582.7 1603.1,582.0 1602.9,581.2 1602.7,580.5 1602.5,579.8 1602.3,579.1 1602.0,578.4 1601.8,577.6 1601.6,576.9 1601.4,576.2 1601.1,575.5 1600.9,574.8 1600.7,574.0 1600.5,573.3 1600.2,572.6 1600.0,571.9 1599.8,571.2 1599.6,570.5 1599.4,569.8 1599.1,569.0 1598.9,568.3 1598.7,567.6 1598.5,566.9 1598.3,566.2 1598.0,565.5 1597.8,564.8 1597.6,564.0 1597.4,563.3 1597.2,562.6 1597.0,561.9 1596.8,561.2 1596.6,560.5 1596.3,559.7 1596.1,559.0 1595.9,558.3 1595.7,557.6 1595.5,556.9 1595.3,556.2 1595.1,555.4 1594.9,554.7 1594.7,554.0 1594.5,553.3 1594.3,552.6 1594.1,551.8 1593.9,551.1 1593.7,550.4 1593.5,549.7 1593.2,549.0 1593.0,548.2 1592.8,547.5 1592.6,546.8 1592.4,546.1 1592.2,545.3 1592.0,544.6 1591.8,543.9 1591.6,543.2 1591.4,542.5 1591.2,541.7 1591.0,541.0 1590.8,540.3 1590.6,539.6 1590.3,538.9 1590.1,538.1 1589.9,537.4 1589.7,536.7 1589.5,536.0 1589.3,535.2 1589.1,534.5 1588.9,533.8 1588.7,533.1 1588.5,532.4 1588.2,531.6 1588.0,530.9 1587.8,530.2 1587.6,529.5 1587.4,528.8 1587.2,528.0 1587.0,527.3 1586.8,526.6 1586.6,525.9 1586.4,525.2 1586.1,524.5 1585.9,523.7 1585.7,523.0 1585.5,522.3 1585.3,521.6 1585.1,520.9 1584.9,520.1 1584.7,519.4 1584.5,518.7 1584.3,518.0 1584.1,517.3 1583.9,516.5 1583.7,515.8 1583.5,515.1 1583.3,514.4 1583.1,513.7 1582.9,512.9 1582.7,512.2 1582.5,511.5 1582.3,510.7 1582.1,510.0 1581.8,509.3 1581.6,508.6 1581.4,507.8 1581.2,507.1 1580.9,506.4 1580.7,505.6 1580.5,504.9 1580.2,504.2 1580.0,503.5 1579.7,502.7 1579.5,502.0 1579.2,501.3 1578.9,500.6 1578.7,499.9 1578.4,499.2 1578.1,498.5 1577.9,497.7 1577.6,497.0 1577.3,496.3 1577.0,495.6 1576.8,494.9 1576.5,494.2 1576.2,493.5 1576.0,492.8 1575.7,492.1 1575.4,491.4 1575.2,490.7 1574.9,490.0 1574.6,489.3 1574.4,488.6 1574.1,487.9 1573.8,487.2 1573.6,486.5 1573.3,485.8 1573.1,485.1 1572.8,484.4 1572.5,483.7 1572.3,483.0 1572.0,482.3 1571.8,481.6 1571.5,480.9 1571.2,480.2 1571.0,479.5 1570.7,478.8 1570.5,478.1 1570.2,477.4 1570.0,476.7 1569.7,476.0 1569.5,475.3 1569.2,474.6 1569.0,473.9 1568.7,473.2 1568.5,472.5 1568.2,471.8 1568.0,471.1 1567.8,470.4 1567.5,469.7 1567.3,469.0 1567.0,468.3 1566.8,467.6 1566.6,466.9 1566.3,466.2 1566.1,465.4 1565.9,464.7 1565.6,464.0 1565.4,463.3 1565.2,462.6 1564.9,461.9 1564.7,461.2 1564.5,460.5 1564.2,459.8 1564.0,459.0 1563.7,458.3 1563.5,457.6 1563.3,456.9 1563.0,456.2 1562.8,455.5 1562.6,454.8 1562.3,454.1 1562.1,453.3 1561.8,452.6 1561.6,451.9 1561.4,451.2 1561.1,450.5 1560.9,449.8 1560.7,449.1 1560.4,448.4 1560.2,447.7 1559.9,446.9 1559.7,446.2 1559.5,445.5 1559.2,444.8 1559.0,444.1 1558.7,443.4 1558.5,442.7 1558.3,442.0 1558.0,441.2 1557.8,440.5 1557.5,439.8 1557.3,439.1 1557.0,438.4 1556.8,437.7 1556.5,437.0 1556.3,436.3 1556.0,435.6 1555.8,434.8 1555.5,434.1 1555.3,433.4 1555.0,432.7 1554.8,432.0 1554.5,431.3 1554.3,430.6 1554.0,429.9 1553.8,429.2 1553.5,428.5 1553.3,427.8 1553.0,427.0 1552.8,426.3 1552.5,425.6 1552.2,424.9 1552.0,424.2 1551.7,423.5 1551.5,422.8 1551.2,422.1 1550.9,421.4 1550.7,420.7 1550.4,420.0 1550.1,419.3 1549.9,418.6 1549.6,417.9 1549.3,417.2 1549.1,416.5 1548.8,415.7 1548.5,415.0 1548.2,414.3 1548.0,413.6 1547.7,412.9 1547.4,412.2 1547.1,411.5 1546.9,410.8 1546.6,410.1 1546.3,409.4 1546.0,408.7 1545.7,408.0 1545.5,407.3 1545.2,406.6 1544.9,405.9 1544.6,405.2 1544.3,404.5 1544.0,403.8 1543.7,403.2 1543.4,402.5 1543.1,401.8 1542.8,401.1 1542.5,400.4 1542.2,399.7 1541.9,399.0 1541.6,398.3 1541.3,397.6 1541.0,396.9 1540.7,396.2 1540.4,395.5 1540.1,394.8 1539.8,394.2 1539.5,393.5 1539.2,392.8 1538.8,392.1 1538.5,391.4 1538.2,390.7 1537.9,390.0 1537.6,389.3 1537.2,388.7 1536.9,388.0 1536.6,387.3 1536.3,386.6 1535.9,385.9 1535.6,385.3 1535.3,384.6 1535.0,383.9 1534.6,383.2 1534.3,382.5 1534.0,381.9 1533.6,381.2 1533.3,380.5 1533.0,379.8 1532.7,379.2 1532.3,378.5 1532.0,377.8 1531.7,377.2 1531.4,376.5 1531.1,375.8 1530.7,375.1 1530.4,374.5 1530.1,373.8 1529.8,373.1 1529.5,372.4 1529.2,371.8 1528.9,371.1 1528.6,370.4 1528.2,369.7 1527.9,369.0 1527.6,368.4 1527.3,367.7 1527.0,367.0 1526.7,366.3 1526.4,365.6 1526.1,364.9 1525.7,364.3 1525.4,363.6 1525.1,362.9 1524.8,362.2 1524.5,361.5 1524.1,360.8 1523.8,360.2 1523.5,359.5 1523.1,358.8 1522.8,358.1 1522.5,357.4 1522.2,356.8 1521.8,356.1 1521.5,355.4 1521.2,354.7 1520.8,354.1 1520.5,353.4 1520.2,352.7 1519.9,352.1 1519.5,351.4 1519.2,350.7 1518.9,350.0 1518.6,349.4 1518.3,348.7 1518.0,348.0 1517.7,347.3 1517.3,346.7 1517.0,346.0 1516.7,345.3 1516.4,344.6 1516.1,343.9 1515.8,343.3 1515.5,342.6 1515.2,341.9 1514.9,341.2 1514.5,340.5 1514.2,339.8 1513.9,339.2 1513.6,338.5 1513.2,337.8 1512.9,337.1 1512.6,336.4 1512.2,335.7 1511.9,335.0 1511.5,334.4 1511.2,333.7 1510.8,333.0 1510.4,332.3 1510.0,331.7 1509.7,331.0 1509.3,330.3 1508.9,329.7 1508.5,329.0 1508.1,328.4 1507.7,327.7 1507.3,327.1 1506.9,326.4 1506.5,325.8 1506.1,325.1 1505.7,324.5 1505.3,323.8 1504.8,323.2 1504.4,322.6 1504.0,321.9 1503.5,321.3 1503.1,320.7 1502.6,320.1 1502.2,319.5 1501.8,318.8 1501.3,318.2 1500.9,317.6 1500.4,317.0 1500.0,316.4 1499.6,315.8 1499.1,315.2 1498.7,314.6 1498.2,314.0 1497.8,313.4 1497.3,312.8 1496.9,312.2 1496.4,311.6 1495.9,311.0 1495.4,310.4 1494.9,309.8 1494.4,309.2 1493.9,308.6 1493.4,308.0 1492.9,307.4 1492.4,306.9 1491.9,306.3 1491.3,305.8 1490.8,305.2 1490.3,304.6 1489.7,304.1 1489.2,303.6 1488.7,303.0 1488.1,302.5 1487.6,301.9 1487.0,301.4 1486.5,300.9 1486.0,300.3 1485.4,299.8 1484.9,299.2 1484.4,298.7 1483.8,298.2 1483.2,297.6 1482.7,297.1 1482.1,296.6 1481.6,296.1 1481.0,295.6 1480.4,295.0 1479.8,294.5 1479.2,294.0 1478.6,293.5 1478.0,293.1 1477.4,292.6 1476.8,292.1 1476.1,291.6 1475.5,291.2 1474.9,290.7 1474.2,290.3 1473.5,289.9 1472.9,289.4 1472.2,289.0 1471.5,288.6 1470.8,288.2 1470.1,287.9 1469.4,287.5 1468.6,287.2 1467.9,286.9 1467.1,286.6 1466.3,286.3 1465.5,286.1 1464.7,285.9 1463.9,285.7 1463.1,285.6 1462.4,285.5 1461.6,285.3 1460.8,285.3 1460.0,285.2 1459.2,285.1 1458.4,285.1 1457.6,285.1 1456.9,285.0 1456.1,285.0 1455.3,285.0 1454.6,285.0 1453.8,285.0 1453.0,285.0 1452.3,285.0 1451.5,285.0 1450.7,285.0 1450.0,285.0 1449.2,285.1 1448.4,285.1 1447.7,285.1 1446.9,285.2 1446.1,285.2 1445.3,285.3 1444.6,285.3 1443.8,285.4 1443.0,285.5 1442.2,285.5 1441.4,285.6 1440.7,285.8 1439.9,285.9 1439.1,286.0 1438.3,286.2 1437.6,286.3 1436.8,286.5 1436.0,286.7 1435.3,286.9 1434.5,287.1 1433.8,287.3 1433.0,287.5 1432.3,287.7 1431.5,287.9 1430.8,288.2 1430.1,288.4 1429.3,288.6 1428.6,288.9 1427.9,289.1 1427.1,289.4 1426.4,289.6 1425.7,289.9 1425.0,290.2 1424.3,290.4 1423.6,290.7 1422.8,291.0 1422.1,291.3 1421.4,291.5 1420.7,291.8 1420.0,292.1 1419.3,292.4 1418.6,292.7 1417.9,293.0 1417.2,293.3 1416.5,293.6 1415.8,293.9 1415.1,294.2 1414.4,294.5 1413.7,294.8 1413.0,295.0 1412.4,295.3 1411.7,295.6 1411.0,295.9 1410.3,296.2 1409.6,296.5 1408.9,296.8 1408.2,297.1 1407.5,297.4 1406.8,297.7 1406.1,298.0 1405.5,298.2 1404.8,298.5 1404.1,298.8 1403.4,299.1 1402.7,299.4 1402.0,299.7 1401.3,300.0 1400.6,300.3 1399.9,300.6 1399.2,300.9 1398.5,301.2 1397.8,301.5 1397.1,301.8 1396.5,302.1 1395.8,302.4 1395.1,302.8 1394.4,303.1 1393.7,303.4 1393.0,303.7 1392.3,304.0 1391.7,304.3 1391.0,304.6 1390.3,304.9 1389.6,305.1 1389.0,305.4 1388.3,305.7 1387.6,306.0 1386.9,306.2 1386.2,306.5 1385.5,306.8 1384.9,307.0 1384.2,307.3 1383.5,307.5 1382.8,307.8 1382.1,308.1 1381.4,308.3 1380.7,308.6 1380.0,308.8 1379.3,309.1 1378.6,309.3 1377.9,309.5 1377.2,309.8 1376.5,310.0 1375.8,310.3 1375.1,310.5 1374.4,310.8 1373.7,311.0 1372.9,311.3 1372.2,311.5 1371.5,311.7 1370.8,312.0 1370.1,312.2 1369.5,312.4 1368.8,312.6 1368.1,312.8 1367.4,313.0 1366.7,313.2 1366.0,313.3 1365.3,313.5 1364.7,313.7 1364.0,313.8 1363.3,313.9 1362.6,314.0 1361.9,314.1 1361.3,314.2 1360.6,314.3 1359.9,314.4 1359.2,314.4 1358.5,314.5 1357.8,314.5 1357.1,314.6 1356.4,314.6 1355.6,314.6 1354.9,314.7 1354.2,314.7 1353.5,314.7 1352.7,314.7 1352.0,314.7 1351.2,314.7 1350.5,314.7 1349.8,314.7 1349.0,314.7 1348.3,314.7 1347.6,314.7 1346.8,314.7 1346.1,314.7 1345.3,314.6 1344.6,314.6 1343.8,314.6 1343.1,314.6 1342.4,314.6 1341.6,314.5 1340.9,314.5 1340.1,314.5 1339.4,314.4 1338.7,314.4 1337.9,314.4 1337.2,314.3 1336.5,314.3 1335.7,314.2 1335.0,314.2 1334.3,314.1 1333.5,314.1 1332.8,314.0 1332.1,314.0 1331.4,313.9 1330.7,313.8 1330.0,313.7 1329.2,313.6 1328.5,313.5 1327.8,313.4 1327.1,313.3 1326.4,313.2 1325.7,313.1 1325.0,313.0 1324.2,312.9 1323.5,312.7 1322.8,312.6 1322.1,312.4 1321.4,312.3 1320.7,312.1 1320.0,312.0 1319.3,311.8 1318.6,311.6 1317.9,311.4 1317.2,311.2 1316.5,311.0 1315.8,310.8 1315.1,310.6 1314.5,310.4 1313.8,310.2 1313.1,310.0 1312.4,309.7 1311.7,309.5 1311.0,309.3 1310.4,309.0 1309.7,308.8 1309.0,308.5 1308.3,308.2 1307.6,308.0 1307.0,307.7 1306.3,307.4 1305.6,307.1 1304.9,306.8 1304.2,306.5 1303.6,306.2 1302.9,305.9 1302.2,305.6 1301.5,305.3 1300.8,305.0 1300.2,304.7 1299.5,304.4 1298.8,304.1 1298.1,303.8 1297.5,303.5 1296.8,303.2 1296.1,302.9 1295.5,302.5 1294.8,302.2 1294.1,301.9 1293.5,301.6 1292.8,301.3 1292.2,301.0 1291.6,300.6 1290.9,300.3 1290.3,300.0 1289.7,299.6 1289.1,299.3 1288.4,298.9 1287.8,298.5 1287.2,298.2 1286.6,297.8 1286.0,297.4 1285.4,297.0 1284.8,296.6 1284.3,296.2 1283.7,295.7 1283.1,295.3 1282.5,294.8 1281.9,294.4 1281.3,293.9 1280.7,293.5 1280.1,293.0 1279.5,292.5 1278.9,292.1 1278.3,291.6 1277.7,291.1 1277.1,290.7 1276.5,290.2 1275.8,289.8 1275.2,289.4 1274.6,288.9 1274.0,288.5 1273.4,288.1 1272.7,287.6 1272.1,287.2 1271.5,286.8 1270.9,286.4 1270.3,286.0 1269.7,285.5 1269.1,285.1 1268.5,284.7 1267.8,284.3 1267.2,283.9 1266.6,283.4 1266.0,283.0 1265.4,282.6 1264.8,282.1 1264.2,281.7 1263.7,281.3 1263.1,280.8 1262.5,280.4 1261.9,279.9 1261.3,279.5 1260.7,279.0 1260.2,278.6 1259.6,278.1 1259.0,277.7 1258.5,277.2 1257.9,276.7 1257.4,276.3 1256.8,275.8 1256.3,275.3 1255.7,274.8 1255.2,274.3 1254.6,273.8 1254.1,273.3 1253.5,272.8 1253.0,272.3 1252.5,271.8 1251.9,271.3 1251.4,270.7 1250.9,270.2 1250.3,269.7 1249.8,269.2 1249.3,268.6 1248.8,268.1 1248.2,267.6 1247.7,267.0 1247.2,266.5 1246.7,266.0 1246.1,265.4 1245.6,264.9 1245.1,264.4 1244.6,263.8 1244.1,263.3 1243.6,262.7 1243.1,262.2 1242.5,261.7 1242.0,261.1 1241.5,260.6 1241.0,260.0 1240.5,259.5 1240.0,258.9 1239.5,258.4 1239.0,257.8 1238.5,257.3 1238.0,256.7 1237.4,256.2 1236.9,255.6 1236.4,255.1 1235.9,254.5 1235.4,254.0 1234.8,253.5 1234.3,252.9 1233.8,252.4 1233.3,251.8 1232.7,251.3 1232.2,250.8 1231.7,250.2 1231.1,249.7 1230.6,249.2 1230.1,248.6 1229.5,248.1 1229.0,247.6 1228.5,247.0 1228.0,246.5 1227.4,246.0 1226.9,245.4 1226.4,244.9 1225.8,244.4 1225.3,243.8 1224.8,243.3 1224.3,242.8 1223.7,242.2 1223.2,241.7 1222.7,241.2 1222.2,240.6 1221.7,240.1 1221.1,239.6 1220.6,239.0 1220.1,238.5 1219.6,237.9 1219.1,237.4 1218.6,236.9 1218.1,236.3 1217.5,235.8 1217.0,235.2 1216.5,234.7 1216.0,234.1 1215.5,233.6 1214.9,233.1 1214.4,232.5 1213.8,232.0 1213.3,231.5 1212.8,230.9 1212.2,230.4 1211.7,229.8 1211.2,229.3 1210.6,228.8 1210.1,228.2 1209.5,227.7 1209.0,227.2 1208.4,226.7 1207.9,226.2 1207.3,225.7 1206.7,225.2 1206.2,224.7 1205.6,224.2 1205.1,223.7 1204.6,223.2 1204.0,222.7 1203.5,222.2 1202.9,221.7 1202.4,221.2 1201.8,220.6 1201.3,220.1 1200.7,219.6 1200.2,219.1 1199.7,218.6 1199.1,218.1 1198.6,217.5 1198.0,217.0 1197.5,216.5 1196.9,216.0 1196.4,215.5 1195.8,215.0 1195.3,214.5 1194.7,213.9 1194.2,213.4 1193.6,212.9 1193.1,212.4 1192.6,211.9 1192.0,211.4 1191.5,210.9 1190.9,210.3 1190.4,209.8 1189.8,209.3 1189.3,208.8 1188.7,208.3 1188.1,207.7 1187.6,207.2 1187.0,206.7 1186.4,206.2 1185.8,205.7 1185.2,205.2 1184.6,204.7 1184.0,204.2 1183.4,203.8 1182.8,203.3 1182.1,202.9 1181.5,202.4 1180.9,202.0 1180.3,201.6 1179.7,201.2 1179.1,200.8 1178.5,200.4 1177.9,199.9 1177.3,199.5 1176.7,199.1 1176.1,198.7 1175.5,198.3 1174.9,197.9 1174.3,197.4 1173.8,197.0 1173.2,196.5 1172.6,196.1 1172.0,195.6 1171.4,195.1 1170.8,194.6 1170.3,194.2 1169.7,193.7 1169.0,193.2 1168.4,192.7 1167.8,192.2 1167.2,191.8 1166.5,191.3 1165.9,190.9 1165.2,190.5 1164.6,190.1 1163.9,189.7 1163.2,189.3 1162.6,188.9 1161.9,188.5 1161.2,188.1 1160.5,187.8 1159.9,187.4 1159.2,187.1 1158.5,186.7 1157.8,186.4 1157.1,186.0 1156.4,185.7 1155.8,185.4 1155.1,185.1 1154.4,184.7 1153.7,184.4 1153.0,184.1 1152.3,183.8 1151.6,183.5 1150.9,183.2 1150.2,182.9 1149.5,182.6 1148.8,182.3 1148.1,182.0 1147.4,181.7 1146.7,181.4 1145.9,181.1 1145.2,180.8 1144.5,180.5 1143.7,180.3 1143.0,180.0 1142.2,179.8 1141.5,179.5 1140.7,179.3 1139.9,179.1 1139.1,178.9 1138.4,178.8 1137.6,178.6 1136.8,178.5 1136.0,178.4 1135.2,178.3 1134.3,178.2 1133.5,178.2 1132.7,178.2 1131.9,178.1 1131.1,178.2 1130.3,178.2 1129.5,178.2 1128.7,178.3 1127.9,178.4 1127.1,178.5 1126.3,178.6 1125.5,178.8 1124.7,178.9 1123.9,179.1 1123.1,179.3 1122.4,179.5 1121.6,179.8 1120.9,180.0 1120.1,180.3 1119.4,180.6 1118.6,180.8 1117.9,181.1 1117.2,181.4 1116.5,181.7 1115.8,182.0 1115.1,182.3 1114.4,182.6 1113.7,182.9 1113.0,183.2 1112.3,183.5 1111.6,183.8 1110.9,184.1 1110.2,184.5 1109.5,184.8 1108.8,185.1 1108.1,185.5 1107.4,185.8 1106.7,186.2 1106.1,186.6 1105.4,186.9 1104.7,187.3 1104.0,187.8 1103.4,188.2 1102.7,188.6 1102.1,189.1 1101.4,189.5 1100.8,190.0 1100.2,190.5 1099.6,190.9 1098.9,191.4 1098.4,191.9 1097.8,192.4 1097.2,192.9 1096.6,193.4 1096.0,193.9 1095.4,194.5 1094.9,195.0 1094.3,195.5 1093.8,196.0 1093.2,196.5 1092.6,197.0 1092.1,197.6 1091.6,198.1 1091.0,198.7 1090.5,199.2 1089.9,199.8 1089.4,200.3 1088.8,200.8 1088.3,201.4 1087.7,201.9 1087.2,202.5 1086.7,203.0 1086.1,203.6 1085.6,204.2 1085.1,204.7 1084.6,205.3 1084.1,205.9 1083.6,206.5 1083.1,207.1 1082.6,207.7 1082.2,208.3 1081.7,208.9 1081.2,209.5 1080.8,210.1 1080.3,210.7 1079.9,211.3 1079.4,211.9 1079.0,212.6 1078.5,213.2 1078.1,213.8 1077.7,214.4 1077.2,215.0 1076.8,215.7 1076.4,216.3 1076.0,216.9 1075.5,217.5 1075.1,218.2 1074.7,218.8 1074.3,219.4 1073.8,220.0 1073.4,220.6 1073.0,221.3 1072.6,221.9 1072.2,222.5 1071.8,223.1 1071.4,223.8 1070.9,224.4 1070.5,225.0 1070.1,225.6 1069.7,226.2 1069.3,226.8 1068.9,227.4 1068.4,228.1 1068.0,228.7 1067.6,229.3 1067.2,229.9 1066.7,230.5 1066.3,231.1 1065.9,231.7 1065.4,232.3 1065.0,232.9 1064.5,233.5 1064.1,234.1 1063.6,234.7 1063.2,235.3 1062.7,235.9 1062.2,236.5 1061.8,237.1 1061.3,237.7 1060.9,238.4 1060.4,239.0 1060.0,239.6 1059.6,240.3 1059.2,240.9 1058.7,241.6 1058.3,242.2 1057.9,242.9 1057.5,243.5 1057.1,244.2 1056.7,244.9 1056.3,245.5 1056.0,246.2 1055.6,246.9 1055.2,247.5 1054.9,248.2 1054.5,248.9 1054.2,249.6 1053.8,250.3 1053.5,250.9 1053.2,251.6 1052.8,252.3 1052.5,253.0 1052.2,253.7 1051.8,254.4 1051.5,255.0 1051.2,255.7 1050.9,256.4 1050.6,257.1 1050.3,257.8 1050.0,258.5 1049.6,259.1 1049.3,259.8 1049.0,260.5 1048.7,261.2 1048.4,261.8 1048.1,262.5 1047.8,263.2 1047.4,263.9 1047.1,264.6 1046.8,265.2 1046.5,265.9 1046.2,266.6 1045.8,267.3 1045.5,268.0 1045.2,268.6 1044.9,269.3 1044.6,270.0 1044.3,270.7 1044.0,271.4 1043.6,272.0 1043.3,272.7 1043.0,273.4 1042.7,274.0 1042.4,274.7 1042.1,275.4 1041.8,276.0 1041.4,276.7 1041.1,277.3 1040.8,278.0 1040.4,278.6 1040.1,279.3 1039.7,279.9 1039.4,280.6 1039.0,281.2 1038.7,281.9 1038.3,282.5 1037.9,283.2 1037.5,283.8 1037.2,284.5 1036.8,285.2 1036.4,285.9 1036.1,286.6 1035.7,287.2 1035.4,287.9 1035.0,288.6 1034.7,289.3 1034.4,290.0 1034.1,290.7 1033.8,291.4 1033.5,292.1 1033.2,292.8 1032.9,293.4 1032.6,294.1 1032.3,294.8 1032.0,295.5 1031.7,296.1 1031.4,296.8 1031.1,297.5 1030.8,298.1 1030.5,298.8 1030.1,299.4 1029.8,300.1 1029.5,300.7 1029.1,301.4 1028.8,302.0 1028.5,302.7 1028.1,303.3 1027.8,304.0 1027.4,304.7 1027.0,305.3 1026.7,306.0 1026.3,306.6 1026.0,307.3 1025.6,307.9 1025.2,308.6 1024.9,309.2 1024.5,309.9 1024.1,310.6 1023.8,311.2 1023.4,311.9 1023.1,312.5 1022.7,313.2 1022.3,313.9 1022.0,314.5 1021.6,315.2 1021.3,315.8 1020.9,316.5 1020.5,317.1 1020.2,317.8 1019.8,318.5 1019.5,319.1 1019.1,319.8 1018.7,320.4 1018.4,321.1 1018.0,321.8 1017.7,322.4 1017.3,323.1 1016.9,323.7 1016.6,324.4 1016.2,325.1 1015.8,325.7 1015.5,326.4 1015.1,327.1 1014.8,327.7 1014.4,328.4 1014.1,329.1 1013.7,329.7 1013.3,330.4 1013.0,331.1 1012.7,331.8 1012.3,332.5 1012.0,333.2 1011.7,333.9 1011.3,334.6 1011.0,335.3 1010.7,335.9 1010.4,336.6 1010.1,337.3 1009.8,338.0 1009.5,338.7 1009.2,339.4 1008.9,340.1 1008.6,340.7 1008.3,341.4 1008.0,342.1 1007.7,342.8 1007.4,343.4 1007.1,344.1 1006.8,344.7 1006.5,345.4 1006.2,346.1 1005.8,346.7 1005.5,347.4 1005.2,348.1 1004.8,348.7 1004.5,349.4 1004.1,350.1 1003.8,350.7 1003.5,351.4 1003.1,352.1 1002.8,352.8 1002.4,353.5 1002.1,354.2 1001.8,354.9 1001.4,355.6 1001.1,356.3 1000.8,356.9 1000.5,357.6 1000.2,358.3 999.9,359.0 999.6,359.7 999.3,360.4 999.0,361.1 998.7,361.8 998.5,362.5 998.2,363.2 997.9,363.8 997.6,364.5 997.3,365.2 997.0,365.9 996.7,366.5 996.4,367.2 996.1,367.9 995.8,368.5 995.5,369.2 995.1,369.9 994.8,370.6 994.5,371.3 994.2,371.9 993.8,372.6 993.5,373.3 993.2,374.0 992.9,374.7 992.6,375.4 992.3,376.1 991.9,376.8 991.6,377.5 991.3,378.2 991.0,378.9 990.7,379.6 990.4,380.3 990.2,381.0 989.9,381.7 989.6,382.4 989.3,383.1 989.0,383.8 988.8,384.5 988.5,385.2 988.2,385.9 987.9,386.6 987.7,387.3 987.4,388.0 987.1,388.7 986.9,389.4 986.6,390.1 986.3,390.8 986.1,391.5 985.8,392.2 985.5,392.9 985.3,393.5 985.0,394.2 984.7,394.9 984.4,395.6 984.1,396.2 983.8,396.9 983.6,397.6 983.3,398.3 983.0,398.9 982.6,399.6 982.3,400.3 982.0,400.9 981.7,401.6 981.4,402.3 981.1,403.0 980.7,403.6 980.4,404.3 980.1,405.0 979.8,405.6 979.4,406.3 979.1,407.0 978.8,407.6 978.4,408.3 978.1,409.0 977.8,409.7 977.4,410.3 977.1,411.0 976.8,411.7 976.4,412.3 976.1,413.0 975.8,413.7 975.4,414.4 975.1,415.0 974.8,415.7 974.4,416.4 974.1,417.0 973.7,417.7 973.4,418.4 973.1,419.1 972.7,419.7 972.4,420.4 972.1,421.1 971.7,421.8 971.4,422.4 971.1,423.1 970.7,423.8 970.4,424.5 970.1,425.2 969.7,425.9 969.4,426.6 969.1,427.3 968.8,427.9 968.5,428.6 968.2,429.3 967.9,430.0 967.6,430.7 967.3,431.4 967.0,432.1 966.7,432.8 966.4,433.5 966.1,434.2 965.8,434.9 965.5,435.6 965.2,436.3 965.0,437.0 964.7,437.7 964.4,438.4 964.1,439.0 963.8,439.7 963.5,440.4 963.2,441.1 962.9,441.8 962.6,442.5 962.4,443.1 962.1,443.8 961.8,444.5 961.5,445.2 961.2,445.9 960.8,446.5 960.5,447.2 960.2,447.9 959.9,448.6 959.6,449.3 959.3,449.9 959.0,450.6 958.7,451.3 958.4,452.0 958.1,452.6 957.7,453.3 957.4,454.0 957.1,454.7 956.8,455.3 956.5,456.0 956.1,456.7 955.8,457.3 955.5,458.0 955.2,458.7 954.8,459.3 954.5,460.0 954.2,460.7 953.8,461.4 953.5,462.0 953.2,462.7 952.8,463.4 952.5,464.0 952.2,464.7 951.8,465.4 951.5,466.1 951.2,466.7 950.8,467.4 950.5,468.1 950.2,468.7 949.8,469.4 949.5,470.1 949.2,470.8 948.8,471.4 948.5,472.1 948.2,472.8 947.8,473.4 947.5,474.1 947.2,474.7 946.8,475.4 946.5,476.1 946.2,476.7 945.8,477.4 945.5,478.0 945.1,478.7 944.8,479.3 944.4,480.0 944.1,480.6 943.7,481.2 943.4,481.9 943.0,482.5 942.6,483.2 942.2,483.8 941.9,484.4 941.5,485.1 941.1,485.7 940.7,486.3 940.3,487.0 939.9,487.6 939.5,488.2 939.1,488.9 938.7,489.5 938.3,490.1 937.9,490.8 937.5,491.4 937.1,492.1 936.8,492.7 936.4,493.3 936.0,494.0 935.6,494.6 935.2,495.2 934.8,495.9 934.4,496.5 934.0,497.1 933.6,497.8 933.2,498.4 932.8,499.1 932.4,499.7 932.0,500.3 931.6,501.0 931.2,501.6 930.8,502.3 930.4,502.9 930.0,503.5 929.6,504.2 929.2,504.8 928.8,505.5 928.4,506.1 928.0,506.8 927.6,507.4 927.3,508.1 926.9,508.7 926.5,509.4 926.1,510.0 925.7,510.7 925.3,511.4 925.0,512.0 924.6,512.7 924.2,513.4 923.9,514.0 923.5,514.7 923.1,515.4 922.8,516.0 922.4,516.7 922.1,517.4 921.7,518.0 921.4,518.7 921.1,519.4 920.7,520.0 920.4,520.7 920.0,521.3 919.7,522.0 919.3,522.7 919.0,523.3 918.7,524.0 918.3,524.6 918.0,525.2 917.6,525.9 917.2,526.5 916.9,527.2 916.5,527.8 916.1,528.4 915.8,529.1 915.4,529.7 915.0,530.3 914.6,531.0 914.2,531.6 913.9,532.2 913.5,532.9 913.1,533.5 912.7,534.1 912.3,534.7 911.9,535.4 911.5,536.0 911.1,536.6 910.6,537.2 910.2,537.8 909.8,538.5 909.4,539.1 909.0,539.7 908.5,540.3 908.1,541.0 907.7,541.6 907.3,542.2 906.9,542.9 906.4,543.5 906.0,544.2 905.6,544.8 905.2,545.5 904.8,546.1 904.4,546.8 904.1,547.4 903.7,548.1 903.3,548.7 902.9,549.4 902.6,550.0 902.2,550.7 901.9,551.3 901.5,551.9 901.1,552.5 900.8,553.1 900.4,553.7 900.0,554.3 899.7,554.9 899.3,555.5 898.9,556.1 898.5,556.7 898.0,557.3 897.6,557.9 897.2,558.4 896.7,559.0 896.2,559.6 895.8,560.2 895.3,560.7 894.8,561.3 894.4,561.9 893.9,562.5 893.4,563.0 892.9,563.6 892.4,564.2 891.9,564.7 891.5,565.3 891.0,565.9 890.5,566.5 890.0,567.0 889.6,567.6 889.1,568.1 888.6,568.7 888.1,569.3 887.7,569.8 887.2,570.4 886.7,570.9 886.2,571.4 885.7,572.0 885.2,572.5 884.7,573.0 884.1,573.5 883.6,574.1 883.1,574.6 882.5,575.1 882.0,575.6 881.4,576.1 880.9,576.6 880.4,577.1 879.8,577.6 879.3,578.1 878.7,578.6 878.2,579.1 877.6,579.7 877.1,580.2 876.5,580.7 876.0,581.2 875.4,581.7 874.9,582.2 874.3,582.7 873.8,583.2 873.2,583.8 872.7,584.3 872.1,584.8 871.6,585.3 871.1,585.8 870.5,586.3 870.0,586.8 869.4,587.3 868.9,587.8 868.3,588.4 867.8,588.9 867.2,589.4 866.7,589.9 866.1,590.4 865.6,590.9 865.0,591.4 864.5,591.9 863.9,592.4 863.4,593.0 862.8,593.5 862.3,594.0 861.7,594.5 861.2,595.0 860.6,595.5 860.1,596.0 859.5,596.5 859.0,597.0 858.4,597.5 857.9,598.0 857.3,598.4 856.7,598.9 856.2,599.4 855.6,599.9 855.0,600.3 854.5,600.8 853.9,601.3 853.3,601.8 852.7,602.2 852.2,602.7 851.6,603.2 851.0,603.6 850.4,604.1 849.9,604.6 849.3,605.1 848.7,605.5 848.1,606.0 847.5,606.5 847.0,607.0 846.4,607.5 845.8,608.0 845.2,608.4 844.6,608.9 844.1,609.4 843.5,609.9 842.9,610.4 842.4,610.9 841.8,611.4 841.2,611.9 840.7,612.4 840.1,612.8 839.5,613.3 839.0,613.7 838.4,614.2 837.8,614.6 837.3,615.0 836.7,615.4 836.1,615.7 835.6,616.0 835.0,616.3 834.4,616.6 833.9,616.8 833.3,617.0 832.8,617.2 832.2,617.3 831.7,617.5 831.1,617.6 830.5,617.7 829.9,617.8 829.3,617.9 828.7,618.0 828.0,618.0 827.4,618.1 826.7,618.1 826.0,618.2 825.3,618.2 824.6,618.2 823.9,618.2 823.1,618.2 822.4,618.2 821.7,618.2 820.9,618.2 820.2,618.2 819.4,618.2 818.7,618.2 817.9,618.2 817.2,618.2 816.4,618.2 815.7,618.2 814.9,618.2 814.2,618.2 813.4,618.2 812.7,618.2 811.9,618.2 811.2,618.2 810.4,618.2 809.7,618.2 808.9,618.2 808.2,618.2 807.4,618.2 806.7,618.2 805.9,618.2 805.2,618.2 804.4,618.2 803.7,618.2 803.0,618.2 802.2,618.2 801.5,618.2 800.7,618.2 800.0,618.2 799.2,618.2 798.5,618.2 797.8,618.1 797.0,618.1 796.3,618.1 795.6,618.1 794.8,618.1 794.1,618.0 793.4,618.0 792.7,617.9 791.9,617.9 791.2,617.8 790.5,617.8 789.8,617.7 789.1,617.6 788.4,617.5 787.7,617.4 786.9,617.4 786.2,617.3 785.5,617.1 784.8,617.0 784.1,616.9 783.4,616.8 782.7,616.7 781.9,616.5 781.2,616.4 780.5,616.2 779.8,616.1 779.1,615.9 778.4,615.8 777.8,615.6 777.1,615.4 776.4,615.3 775.7,615.1 775.1,614.9 774.4,614.7 773.8,614.5 773.1,614.2 772.5,614.0 771.8,613.7 771.2,613.5 770.6,613.2 770.0,612.9 769.4,612.6 768.7,612.3 768.1,612.0 767.5,611.7 766.9,611.3 766.3,611.0 765.7,610.6 765.1,610.2 764.5,609.8 763.9,609.4 763.3,608.9 762.7,608.5 762.0,608.1 761.4,607.6 760.8,607.2 760.1,606.8 759.5,606.4 758.8,605.9 758.2,605.5 757.5,605.1 756.9,604.7 756.2,604.3 755.5,604.0 754.9,603.6 754.2,603.2 753.5,602.9 752.9,602.5 752.2,602.2 751.5,601.8 750.9,601.5 750.2,601.1 749.6,600.8 748.9,600.4 748.3,600.1 747.6,599.8 747.0,599.4 746.3,599.1 745.7,598.7 745.1,598.3 744.4,598.0 743.8,597.6 743.2,597.2 742.5,596.8 741.9,596.5 741.3,596.1 740.6,595.7 740.0,595.3 739.4,594.9 738.7,594.5 738.1,594.1 737.4,593.7 736.8,593.3 736.1,592.9 735.5,592.5 734.8,592.1 734.1,591.7 733.5,591.3 732.8,590.9 732.1,590.6 731.5,590.2 730.8,589.8 730.1,589.5 729.5,589.1 728.8,588.8 728.1,588.4 727.5,588.1 726.8,587.8 726.2,587.4 725.5,587.1 724.9,586.7 724.2,586.4 723.6,586.0 722.9,585.7 722.3,585.3 721.7,585.0 721.0,584.6 720.4,584.3 719.8,583.9 719.1,583.5 718.5,583.1 717.9,582.7 717.3,582.3 716.6,581.9 716.0,581.5 715.4,581.1 714.8,580.7 714.1,580.3 713.5,579.9 712.9,579.5 712.3,579.1 711.6,578.7 711.0,578.2 710.4,577.8 709.7,577.4 709.1,577.0 708.4,576.6 707.8,576.2 707.1,575.8 706.5,575.4 705.8,575.0 705.2,574.6 704.5,574.2 703.8,573.8 703.2,573.4 702.5,573.1 701.8,572.7 701.1,572.3 700.5,572.0 699.8,571.6 699.1,571.3 698.4,570.9 697.7,570.6 697.1,570.2 696.4,569.9 695.7,569.6 695.0,569.2 694.3,568.9 693.5,568.6 692.8,568.3 692.1,568.0 691.4,567.7 690.6,567.4 689.9,567.1 689.1,566.9 688.3,566.7 687.5,566.4 686.7,566.3 686.0,566.1 685.2,565.9 684.4,565.8 683.6,565.7 682.8,565.6 682.0,565.5 681.2,565.5 680.5,565.4 679.7,565.4 678.9,565.3 678.1,565.3 677.4,565.3 676.6,565.2 675.9,565.2 675.1,565.2 674.3,565.2 673.6,565.2 672.8,565.2 672.1,565.1 671.3,565.1 670.6,565.1 669.8,565.1 669.0,565.1 668.3,565.1 667.5,565.1 666.8,565.1 666.0,565.1 665.2,565.1 664.5,565.2 663.7,565.2 662.9,565.2 662.2,565.2 661.4,565.3 660.6,565.3 659.8,565.4 659.0,565.4 658.3,565.5 657.5,565.6 656.7,565.7 655.9,565.9 655.1,566.1 654.3,566.3 653.5,566.5 652.7,566.7 651.9,567.0 651.2,567.3 650.4,567.6 649.7,568.0 649.0,568.4 648.2,568.8 647.5,569.2 646.9,569.6 646.2,570.1 645.5,570.5 644.9,571.0 644.3,571.5 643.7,572.0 643.1,572.5 642.5,573.0 641.9,573.5 641.3,574.0 640.7,574.5 640.2,575.0 639.6,575.6 639.0,576.1 638.5,576.6 637.9,577.1 637.4,577.7 636.8,578.2 636.3,578.7 635.7,579.2 635.2,579.7 634.6,580.3 634.1,580.8 633.6,581.3 633.0,581.8 632.5,582.3 631.9,582.8 631.4,583.3 630.8,583.8 630.3,584.3 629.7,584.8 629.2,585.3 628.6,585.9 628.1,586.4 627.5,586.9 627.0,587.4 626.4,588.0 625.9,588.5 625.4,589.1 624.8,589.6 624.3,590.1 623.7,590.7 623.2,591.2 622.7,591.8 622.1,592.4 621.6,592.9 621.1,593.5 620.6,594.1 620.1,594.7 619.6,595.2 619.1,595.8 618.6,596.4 618.2,597.0 617.7,597.6 617.2,598.1 616.8,598.7 616.3,599.3 615.8,599.9 615.4,600.5 614.9,601.0 614.4,601.6 613.9,602.2 613.5,602.8 613.0,603.3 612.5,603.9 612.0,604.5 611.6,605.0 611.1,605.6 610.6,606.2 610.1,606.7 609.6,607.3 609.1,607.9 608.6,608.5 608.1,609.0 607.6,609.6 607.1,610.2 606.7,610.7 606.2,611.3 605.7,611.9 605.2,612.5 604.7,613.1 604.2,613.7 603.7,614.2 603.2,614.8 602.8,615.4 602.3,616.0 601.8,616.6 601.3,617.2 600.9,617.8 600.4,618.5 600.0,619.1 599.5,619.7 599.1,620.3 598.6,620.9 598.2,621.5 597.8,622.1 597.3,622.8 596.9,623.4 596.5,624.0 596.1,624.6 595.6,625.2 595.2,625.8 594.8,626.4 594.4,627.0 593.9,627.6 593.5,628.2 593.1,628.8 592.6,629.4 592.2,630.0 591.7,630.6 591.3,631.2 590.8,631.8 590.4,632.4 589.9,633.0 589.5,633.6 589.0,634.2 588.6,634.8 588.1,635.4 587.7,636.0 587.2,636.6 586.8,637.2 586.3,637.8 585.9,638.4 585.4,639.0 585.0,639.7 584.5,640.3 584.1,640.9 583.6,641.5 583.2,642.1 582.7,642.7 582.3,643.4 581.9,644.0 581.4,644.6 581.0,645.2 580.6,645.9 580.1,646.5 579.7,647.2 579.3,647.8 578.9,648.5 578.5,649.1 578.1,649.8 577.7,650.4 577.3,651.0 576.9,651.7 576.6,652.3 576.2,653.0 575.8,653.6 575.4,654.3 575.1,654.9 574.7,655.6 574.3,656.2 573.9,656.8 573.6,657.5 573.2,658.1 572.8,658.7 572.4,659.4 572.0,660.0 571.6,660.6 571.2,661.3 570.8,661.9 570.4,662.5 570.0,663.2 569.6,663.8 569.2,664.5 568.8,665.1 568.4,665.8 568.0,666.4 567.6,667.1 567.3,667.7 566.9,668.4 566.5,669.0 566.1,669.7 565.8,670.3 565.4,671.0 565.0,671.6 564.7,672.2 564.3,672.9 563.9,673.5 563.6,674.1 563.2,674.8 562.8,675.4 562.4,676.0 562.0,676.6 561.6,677.2 561.2,677.9 560.8,678.5 560.4,679.1 560.0,679.7 559.6,680.3 559.2,680.9 558.8,681.5 558.3,682.1 557.9,682.7 557.5,683.2 557.0,683.8 556.6,684.4 556.1,685.0 555.7,685.6 555.2,686.1 554.8,686.7 554.3,687.3 553.8,687.9 553.3,688.4 552.9,689.0 552.4,689.6 551.9,690.1 551.4,690.7 550.9,691.3 550.4,691.8 549.9,692.4 549.5,693.0 549.0,693.5 548.5,694.1 548.0,694.7 547.5,695.2 547.0,695.8 546.5,696.3 546.0,696.9 545.5,697.4 545.1,698.0 544.6,698.5 544.1,699.1 543.5,699.6 543.0,700.2 542.5,700.7 542.0,701.3 541.5,701.8 541.0,702.3 540.5,702.9 540.0,703.4 539.4,703.9 538.9,704.5 538.4,705.0 537.9,705.5 537.4,706.1 536.8,706.6 536.3,707.1 535.8,707.6 535.2,708.1 534.7,708.7 534.1,709.2 533.6,709.7 533.1,710.2 532.5,710.7 532.0,711.2 531.4,711.7 530.9,712.1 530.3,712.6 529.8,713.1 529.2,713.6 528.6,714.1 528.1,714.5 527.5,715.0 526.9,715.5 526.4,715.9 525.8,716.4 525.2,716.9 524.6,717.3 524.1,717.8 523.5,718.3 522.9,718.8 522.3,719.2 521.7,719.7 521.2,720.2 520.6,720.6 520.0,721.1 519.4,721.6 518.8,722.0 518.2,722.5 517.7,723.0 517.1,723.4 516.5,723.9 515.9,724.3 515.3,724.8 514.7,725.2 514.1,725.6 513.5,726.0 512.9,726.5 512.3,726.9 511.7,727.3 511.1,727.7 510.5,728.1 509.9,728.5 509.3,728.8 508.7,729.2 508.1,729.6 507.4,730.0 506.8,730.4 506.2,730.7 505.5,731.1 504.9,731.5 504.2,731.9 503.6,732.2 503.0,732.6 502.3,733.0 501.7,733.4 501.0,733.7 500.4,734.1 499.7,734.5 499.1,734.8 498.4,735.2 497.8,735.6 497.1,735.9 496.5,736.3 495.8,736.7 495.2,737.0 494.5,737.4 493.9,737.7 493.2,738.1 492.6,738.4 491.9,738.8 491.3,739.1 490.6,739.4 490.0,739.7 489.3,740.0 488.7,740.4 488.0,740.6 487.4,740.9 486.7,741.2 486.1,741.5 485.4,741.7 484.7,742.0 484.1,742.2 483.4,742.4 482.7,742.7 482.1,742.9 481.4,743.1 480.7,743.3 480.0,743.5 479.3,743.7 478.6,743.9 477.9,744.1 477.2,744.3 476.5,744.5 475.8,744.7 475.0,744.9 474.3,745.1 473.6,745.3 472.9,745.4 472.2,745.6 471.5,745.8 470.7,746.0 470.0,746.1 469.3,746.3 468.6,746.4 467.9,746.6 467.2,746.7 466.5,746.9 465.7,747.0 465.0,747.2 464.3,747.3 463.6,747.4 462.9,747.6 462.1,747.7 461.4,747.8 460.7,747.9 459.9,748.1 459.2,748.2 458.5,748.3 457.7,748.4 457.0,748.5 456.3,748.6 455.5,748.8 454.8,748.9 454.0,749.0 453.3,749.1 452.6,749.2 451.8,749.3 451.1,749.4 450.3,749.5 449.6,749.7 448.9,749.8 448.1,749.9 447.4,750.0 446.7,750.1 445.9,750.2 445.2,750.3 444.4,750.4 443.7,750.5 443.0,750.6 442.2,750.8 441.5,750.9 440.7,751.0 440.0,751.1 439.2,751.2 438.5,751.3 437.8,751.4 437.0,751.5 436.3,751.6 435.5,751.7 434.8,751.8 434.1,751.9 433.3,752.0 432.6,752.1 431.8,752.2 431.1,752.3 430.4,752.4 429.6,752.5 428.9,752.6 428.2,752.7 427.4,752.8 426.7,752.9 426.0,753.0 425.2,753.0 424.5,753.1 423.8,753.2 423.0,753.3 422.3,753.3 421.6,753.4 420.9,753.4 420.1,753.5 419.4,753.5 418.6,753.6 417.9,753.6 417.2,753.7 416.4,753.7 415.7,753.8 414.9,753.8 414.2,753.8 413.4,753.9 412.7,753.9 412.0,754.0 411.2,754.0 410.5,754.0 409.7,754.1 409.0,754.1 408.2,754.1 407.5,754.2 406.7,754.2 406.0,754.3 405.2,754.3 404.5,754.3 403.7,754.4 403.0,754.4 402.2,754.4 401.5,754.5 400.7,754.5 400.0,754.5 399.2,754.6 398.5,754.6 397.7,754.7 397.0,754.7 396.2,754.7 395.5,754.8 394.8,754.8 394.0,754.8 393.3,754.8 392.5,754.9 391.8,754.9 391.0,754.9 390.3,754.9 389.6,755.0 388.8,755.0 388.1,755.0 387.3,755.0 386.6,755.0 385.9,755.0 385.1,755.0 384.4,755.0 383.6,755.0 382.9,755.0 382.1,755.0 381.4,755.0 380.6,755.0 379.9,755.0 379.1,755.0 378.4,755.0 377.6,755.0 376.9,755.0 376.1,755.0 375.4,755.0 374.6,755.0 373.9,755.0 373.1,755.0 372.4,755.0 371.6,755.0 370.9,755.0 370.1,755.0 369.4,755.0 368.6,755.1 367.9,755.1 367.1,755.1 366.4,755.1 365.6,755.1 364.9,755.1 364.1,755.1 363.4,755.1 362.6,755.1 361.9,755.1 361.1,755.1 360.4,755.1 359.6,755.1 358.9,755.1 358.1,755.1 357.4,755.1 356.6,755.1 355.9,755.1 355.1,755.1 354.4,755.1 353.6,755.1 352.9,755.1 352.1,755.1 351.4,755.1 350.6,755.1 349.9,755.1 349.1,755.1 348.4,755.1 347.6,755.1 346.9,755.1 346.1,755.1 345.4,755.1 344.6,755.1 343.9,755.1 343.1,755.1 342.4,755.1 341.6,755.1 340.9,755.0 340.1,755.0 339.4,755.0 338.6,755.0 337.9,755.0 337.1,755.0 336.4,755.0 335.6,755.0 334.9,755.0 334.1,755.0 333.4,755.0 332.6,755.0 331.9,755.0 331.1,755.0 330.4,755.0 329.6,755.0 328.9,755.0 328.2,755.0 327.4,755.0 326.7,755.0 325.9,755.0 325.2,755.0 324.4,755.0 323.7,755.0 322.9,755.0 322.2,755.0 321.5,755.0 320.7,755.0 320.0,754.9 319.2,754.9 318.5,754.9 317.8,754.9 317.0,754.8 316.3,754.8 315.5,754.8 314.8,754.8 314.0,754.7 313.3,754.7 312.6,754.7 311.8,754.6 311.1,754.6 310.3,754.5 309.6,754.5 308.8,754.5 308.1,754.4 307.3,754.4 306.6,754.3 305.8,754.3 305.1,754.3 304.3,754.2 303.6,754.2 302.8,754.2 302.1,754.1 301.3,754.1 300.6,754.0 299.8,754.0 299.1,754.0 298.3,753.9 297.6,753.9 296.8,753.8 296.1,753.8 295.3,753.8 294.6,753.7 293.9,753.7 293.1,753.6 292.4,753.6 291.6,753.5 290.9,753.5 290.1,753.5 289.4,753.4 288.6,753.4 287.9,753.3 287.2,753.3 286.4,753.2 285.7,753.2 284.9,753.1 284.2,753.0 283.4,753.0 282.7,752.9 282.0,752.9 281.2,752.8 280.5,752.7 279.7,752.7 279.0,752.6 278.2,752.6 277.5,752.5 276.7,752.4 276.0,752.4 275.2,752.3 274.4,752.3 273.7,752.2 272.9,752.2 272.2,752.1 271.4,752.1 270.6,752.0 269.9,752.0 269.1,752.0 268.4,751.9 267.6,751.9 266.8,751.9 266.1,751.9 265.3,751.9 264.6,751.8 263.8,751.8 263.0,751.8 262.3,751.8 261.5,751.8 260.8,751.8 260.0,751.8 259.3,751.8 258.5,751.8 257.8,751.8 257.0,751.8 256.3,751.8 255.5,751.7 254.8,751.7 254.0,751.7 253.3,751.7 252.6,751.7 251.8,751.7 251.1,751.7 250.4,751.7 249.7,751.7 249.0,751.7 248.4,751.7 247.7,751.7 247.1,751.7 246.5,751.7 245.9,751.7 245.4,751.7 244.9,751.7 244.5,751.7 244.1,751.7Z" fill="#000" fill-rule="nonzero"/>
<rect x="1654.5" y="692" width="218" height="6" fill="#000"/>
<polygon points="1821,678 1825,678 1877.7,693 1877.7,697 1825,711.4 1821,711.4" fill="#000"/>
<rect x="1584.2" y="44.8" width="133.5" height="59.3" fill="#000"/>
<rect x="1587.7" y="48.2" width="126.5" height="52.5" fill="#0000ff"/>
<rect x="1584.2" y="138.0" width="133.5" height="62.6" fill="#000"/>
<rect x="1587.7" y="141.4" width="126.5" height="55.8" fill="#ff0000"/>
<rect x="1584.2" y="231.6" width="133.5" height="62.8" fill="#000"/>
<rect x="1587.7" y="235.0" width="126.5" height="56.0" fill="#00ff00"/>
<rect x="1584.2" y="324.6" width="133.5" height="63.3" fill="#000"/>
<g font-family="'Liberation Sans', Arial, sans-serif" fill="#000"><text x="199.7" y="57.5" font-size="62.5" text-anchor="end" >0.8</text>
<text x="199.7" y="347.7" font-size="62.5" text-anchor="end" >0.6</text>
<text x="199.7" y="637.9" font-size="62.5" text-anchor="end" >0.4</text>
<text x="199.7" y="928.1" font-size="62.5" text-anchor="end" >0.2</text>
<text x="199.7" y="1218.3" font-size="62.5" text-anchor="end" >0.0</text>
<text x="2047.5" y="147.6" font-size="62.5" text-anchor="start" >0.015</text>
<text x="2047.5" y="361.7" font-size="62.5" text-anchor="start" >0.010</text>
<text x="2047.5" y="575.9" font-size="62.5" text-anchor="start" >0.005</text>
<text x="2047.5" y="790.1" font-size="62.5" text-anchor="start" >0.000</text>
<text x="2047.5" y="1004.2" font-size="62.5" text-anchor="start" >-0.005</text>
<text x="2047.5" y="1218.3" font-size="62.5" text-anchor="start" >-0.010</text>
<text x="242.8" y="1289" font-size="62.5" text-anchor="middle" letter-spacing="-1.2">1750</text>
<text x="830.3" y="1289" font-size="62.5" text-anchor="middle" letter-spacing="-1.2">1700</text>
<text x="1419.1000000000001" y="1289" font-size="62.5" text-anchor="middle" letter-spacing="-1.2">1650</text>
<text x="2009.1000000000001" y="1289" font-size="62.5" text-anchor="middle" letter-spacing="-1.2">1600</text>
<text x="801.5" y="1365" font-size="70" text-anchor="start" letter-spacing="1.3">Wavenumber (cm</text>
<text x="1372.5" y="1337.5" font-size="55" text-anchor="start" transform="translate(1372.5,1337.5) scale(1.25,0.8) translate(-1372.5,-1337.5)">-</text>
<text x="1391" y="1335.6" font-size="55" text-anchor="start" >1</text>
<text x="1423" y="1365" font-size="70" text-anchor="start" >)</text>
<text transform="translate(74.5,790.2) rotate(-90)" font-size="70" letter-spacing="0.22">Relative Area</text>
<text transform="translate(2299.5,1010.9) rotate(-90) scale(0.9,1.0)" font-size="70" stroke="#fff" stroke-width="2.2">Δ</text>
<text transform="translate(2298.5,956.1) rotate(-90)" font-size="70" letter-spacing="0.18">Kubelka-Munk Intensity</text>
<text x="1758" y="103.6" font-size="61" text-anchor="start" >β-COA</text>
<text x="1758" y="197.9" font-size="61" text-anchor="start" >COA-II</text>
<text x="1758" y="290.9" font-size="61" text-anchor="start" >COA-III</text>
<text x="1758" y="383.9" font-size="61" text-anchor="start" >COA-IV</text></g>
</svg>
</body></html>
